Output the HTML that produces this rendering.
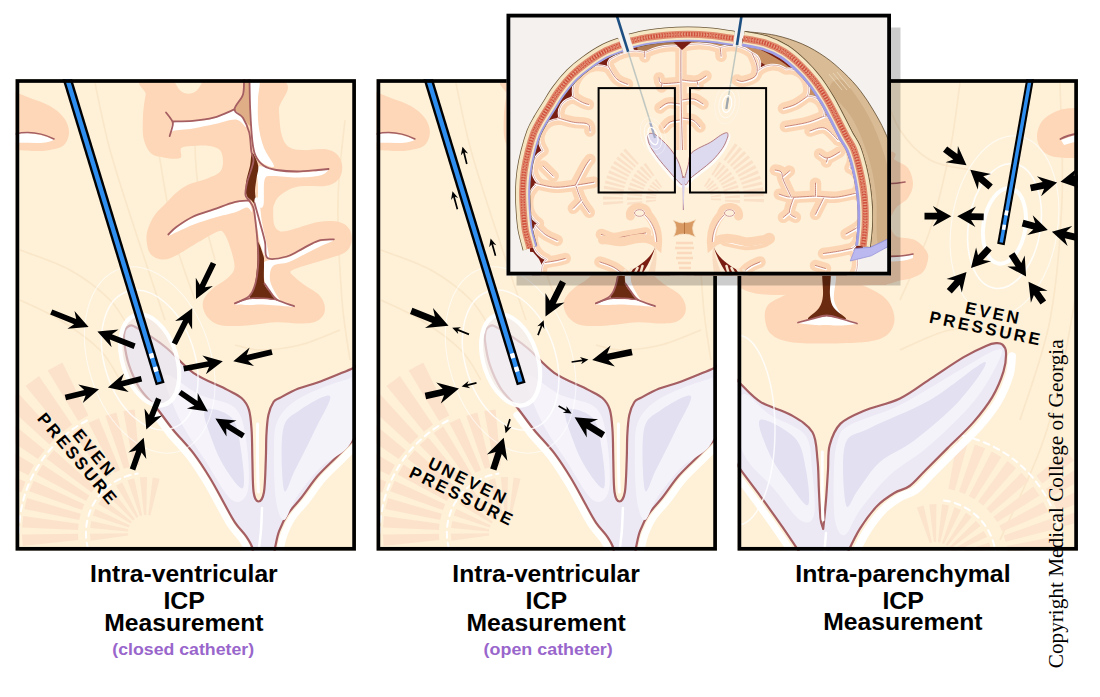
<!DOCTYPE html>
<html><head><meta charset="utf-8"><title>ICP Measurement</title>
<style>
html,body{margin:0;padding:0;background:#fff;}
body{width:1100px;height:697px;overflow:hidden;font-family:"Liberation Sans",sans-serif;}
svg{display:block}
text{font-family:"Liberation Sans",sans-serif;}
.ser{font-family:"Liberation Serif",serif;}
</style></head><body>
<svg width="1100" height="697" viewBox="0 0 1100 697">
<defs>
<clipPath id="cp1"><rect x="15.6" y="79.2" width="340.4" height="471.5"/></clipPath>
<clipPath id="cp2"><rect x="376.5" y="79.2" width="340.4" height="471.5"/></clipPath>
<clipPath id="cp3"><rect x="737.5" y="79.2" width="340.4" height="471.5"/></clipPath>
<clipPath id="cpi"><rect x="506.5" y="13.7" width="384.5" height="261.8"/></clipPath>
<filter id="bl1" x="-20%" y="-20%" width="140%" height="140%"><feGaussianBlur stdDeviation="1.2"/></filter>
<filter id="bl3" x="-30%" y="-30%" width="160%" height="160%"><feGaussianBlur stdDeviation="3"/></filter>
<g id="sceneA">
<rect x="15" y="79" width="342" height="473" fill="#FEF1D8"/>
<path d="M95 83 C97.5 94.2 103.3 125.5 110 150 C116.7 174.5 125.8 201.7 135 230 C144.2 258.3 160 305 165 320" fill="none" stroke="#F9E3C4" stroke-width="1.6" opacity=".8"/>
<path d="M150 83 C151.7 95.8 155.8 133.8 160 160 C164.2 186.2 169.2 216.7 175 240 C180.8 263.3 191.7 290 195 300" fill="none" stroke="#F9E3C4" stroke-width="1.6" opacity=".8"/>
<path d="M20 250 C28.3 253.3 55 261.7 70 270 C85 278.3 100 290 110 300 C120 310 126.7 325 130 330" fill="none" stroke="#F9E3C4" stroke-width="1.6" opacity=".8"/>
<path d="M20 300 C26.7 303.3 46.7 311.7 60 320 C73.3 328.3 90 340 100 350 C110 360 116.7 375 120 380" fill="none" stroke="#F9E3C4" stroke-width="1.6" opacity=".8"/>
<path d="M200 83 C199.2 92.5 195 120.5 195 140 C195 159.5 196.7 180 200 200 C203.3 220 212.5 250 215 260" fill="none" stroke="#F9E3C4" stroke-width="1.6" opacity=".8"/>
<path d="M340 330 C333.3 332.5 313.3 341.7 300 345 C286.7 348.3 270.8 350 260 350 C249.2 350 239.2 345.8 235 345" fill="none" stroke="#F9E3C4" stroke-width="1.6" opacity=".8"/>
<path d="M345 120 C343.8 133.3 338.5 170 338 200 C337.5 230 340 273.3 342 300 C344 326.7 348.7 350 350 360" fill="none" stroke="#F9E3C4" stroke-width="1.6" opacity=".8"/>
<path d="M15 92 C17.5 93 24.2 95.7 30 98 C35.8 100.3 44.3 102.7 50 106 C55.7 109.3 60.8 113.7 64 118 C67.2 122.3 69 127.5 69 132 C69 136.5 67.2 142 64 145 C60.8 148 54.8 149 50 150 C45.2 151 40.8 151 35 151 C29.2 151 18.3 150.2 15 150Z" fill="#FDD7B7"/>
<path d="M15 133 C28 132 42 134 54 140 C44 145 28 142 15 143Z" fill="#fff"/>
<path d="M15 134 C28 131 42 133 54 139" fill="none" stroke="#A55E62" stroke-width="1.6" stroke-linecap="round"/>
<path d="M149.9 79 C127.8 81.6 146.8 88.6 145.7 94.7 C144.5 100.8 143.3 108.3 143 115.6 C142.7 122.9 142.3 132.3 143.6 138.6 C144.9 144.9 147.6 150.2 150.9 153.3 C154.2 156.4 158.6 156.6 163.5 157.4 C168.4 158.2 177.2 159.7 180.2 158.1 C183.1 156.5 179.1 150 181.2 148 C183.3 146 188 146.2 192.7 145.9 C197.4 145.6 204.9 145.2 209.4 145.9 C213.9 146.6 217.6 147.5 219.9 150.1 C222.2 152.7 223 157.9 223 161.6 C223 165.3 222.5 169.3 219.9 172.1 C217.3 174.9 212.6 176.3 207.4 178.4 C202.2 180.5 193.7 182.2 188.5 184.6 C183.3 187 179.5 190.2 176 193 C172.5 195.8 171.1 197.9 167.6 201.5 C164.1 205.1 158.4 210 155.1 214.6 C151.8 219.2 149.2 224.8 147.8 229.3 C146.4 233.8 146.2 237.6 146.7 241.8 C147.2 246 148.1 251.4 150.9 254.4 C153.7 257.4 159 259.6 163.5 259.6 C168 259.6 172.2 257.4 178.1 254.4 C184 251.4 192.4 245.6 199 241.8 C205.6 238 213.6 232.8 217.8 231.4 C222 230 222 230.7 224.1 233.5 C226.2 236.3 228.7 242.5 230.4 248.1 C232.1 253.7 234.8 262 234.5 266.9 C234.2 271.8 231.8 273.9 228.3 277.4 C224.8 280.9 217.6 284.3 213.6 287.8 C209.6 291.3 205.9 294.8 204.2 298.3 C202.5 301.8 202.3 305.2 203.2 308.7 C204.1 312.2 206.3 316.4 209.4 319.2 C212.5 322 215.7 324.4 222 325.4 C228.3 326.4 238 325.9 247.1 325.4 C256.2 324.9 268 322.6 276.4 322.3 C284.8 322 291 323.4 297.3 323.4 C303.6 323.4 309.6 323.7 314 322.3 C318.4 320.9 321.7 318 323.4 315 C325.1 312 325.3 308 324.4 304.5 C323.5 301 321.3 297.2 318.2 294.1 C315.1 291 309.4 288.5 305.6 285.7 C301.8 282.9 297.6 279.8 295.2 277.4 C292.8 275 288.9 273.2 291 271.1 C293.1 269 301.4 266.9 307.7 264.8 C314 262.7 322.3 260.6 328.6 258.5 C334.9 256.4 341.5 255.1 345.3 252.3 C349.1 249.5 350.9 245.6 351.6 241.8 C352.3 238 351.6 232.6 349.5 229.3 C347.4 226 344.3 223.2 339.1 222 C333.9 220.8 325.9 220.8 318.2 222 C310.5 223.2 299.4 227.7 293.1 229.3 C286.8 230.9 283.6 232.1 280.5 231.4 C277.4 230.7 275.5 228.6 274.3 225.1 C273.1 221.6 273.2 214 273.2 210.5 C273.2 207 273.1 206.6 274.3 204 C275.5 201.4 276.7 198 280.5 195.1 C284.3 192.2 289.6 188.3 297.3 186.7 C305 185.1 319.5 187.1 326.5 185.7 C333.5 184.3 336.5 181.7 339.1 178.4 C341.7 175.1 342.6 169.8 342.2 165.8 C341.8 161.8 340 157.1 337 154.3 C334 151.5 330 149.8 324.4 149.1 C318.8 148.4 309.4 150.4 303.5 150.1 C297.6 149.8 292.5 149.6 288.9 147 C285.2 144.4 283.3 140.8 281.6 134.5 C279.9 128.2 279.4 118.7 278.9 109.4 C278.4 100.2 299.9 84.1 278.4 79 C256.9 73.9 172 76.4 149.9 79Z" fill="#FDD7B7"/>
<path d="M173 79 C174.2 80.9 177.6 88 180.2 90.5 C182.8 93 185.7 93.7 188.5 93.7 C191.3 93.7 194.3 93 196.9 90.5 C199.5 88 202.8 80.9 204 79Z" fill="#FEF1D8"/>
<path d="M244 79 C245.1 76.4 248.4 74 249.5 79 C250.6 84 250.1 101.2 250.3 109 C250.6 116.8 252.2 124.5 251 126 C249.8 127.5 245.8 120.5 243 117.7 C240.2 114.9 234.5 113.2 234.5 109.4 C234.5 105.6 241.3 99.8 242.9 94.7 C244.5 89.6 242.9 81.6 244 79Z" fill="#DFAE86"/>
<path d="M250 79 C251.5 74 258.2 75.5 259.5 79 C260.8 82.5 258.2 92.3 258 100 C257.8 107.7 257.5 117 258.5 125 C259.5 133 261.4 141.2 264 148 C266.6 154.8 274 163.3 274 166 C274 168.7 267.1 165.8 264 164 C260.9 162.2 257.4 159 255.4 155 C253.5 151 253.1 147.7 252.3 140 C251.5 132.3 250.9 119.2 250.5 109 C250.1 98.8 248.5 84 250 79Z" fill="#fff"/>
<path d="M173.5 122.5 C177.2 120.1 186 122.2 192.7 121.5 C199.4 120.8 206.9 120.3 213.6 118.5 C220.3 116.7 228.1 110.5 233 110.5 C237.9 110.5 240.8 115.8 243 118.5 C245.2 121.2 247.2 126.8 246 127 C244.8 127.2 241.2 120 236 119.5 C230.8 119 222.2 122.5 215 124 C207.8 125.5 200 127.3 193 128.5 C186 129.7 176.8 129.8 173 131 C169.2 132.2 170.4 137.4 170.5 136 C170.6 134.6 169.8 124.9 173.5 122.5Z" fill="#fff"/>
<path d="M257 168 C258.1 165 261.3 166.5 264.5 167 C267.7 167.5 270.9 170.1 276.4 171 C281.9 171.9 290.3 172.5 297.3 172.5 C304.3 172.5 313.1 171.4 318.2 171 C323.3 170.6 327.7 169.2 328 170 C328.3 170.8 325.2 174.2 320 175.5 C314.8 176.8 305 177.4 297 177.5 C289 177.6 277.4 175.6 272 176 C266.6 176.4 265.9 175.2 264.5 180 C263.1 184.8 264.5 200.8 263.5 205 C262.5 209.2 259.4 208.3 258.5 205 C257.6 201.7 258.2 191.2 258 185 C257.8 178.8 255.9 171 257 168Z" fill="#fff"/>
<path d="M252.3 153 C253.7 153 257.5 161.6 258.2 165.8 C258.9 170 257 174.2 256.5 178.4 C256 182.6 255.1 186.6 255 190.9 C254.9 195.2 256.7 202.5 256 204 C255.3 205.5 252.6 201.5 251 200 C249.4 198.5 247.3 198 246.5 195.1 C245.7 192.2 245.4 187.3 246 182.5 C246.6 177.7 248.9 170.9 250 166 C251.1 161.1 250.9 153 252.3 153Z" fill="#6A2B10"/>
<path d="M248 201.5 C245.1 200.1 240.2 201.8 234.5 203.3 C228.8 204.8 220.6 208.2 213.6 210.6 C206.6 213 199 215 192.7 218 C186.4 221 179.9 225.5 176 228.4 C172.1 231.3 168.7 235 169 235.5 C169.3 236 173.7 233.4 178 231.5 C182.3 229.6 188.8 226.3 195 224 C201.2 221.7 208.2 219.5 215 217.5 C221.8 215.5 230.7 213.7 236 212 C241.3 210.3 244.3 207.5 247 207.5 C249.7 207.5 251.8 213 252 212 C252.2 211 250.9 202.9 248 201.5Z" fill="#fff"/>
<path d="M254.5 200 C254.9 196.3 257.8 196.3 259 200 C260.2 203.7 260.8 214.8 262 222 C263.2 229.2 265.3 237.2 266.5 243 C267.7 248.8 269.2 254.8 269 257 C268.8 259.2 266.5 258.3 265 256 C263.5 253.7 261.4 248.7 260 243 C258.6 237.3 257.4 229.2 256.5 222 C255.6 214.8 254.1 203.7 254.5 200Z" fill="#fff"/>
<path d="M266 261 C269.8 259.3 280.6 259.7 286.8 257.8 C293.1 255.9 298.3 252 303.5 249.4 C308.7 246.8 313.2 243.5 318.2 242 C323.2 240.5 332.9 239.9 333.5 240.5 C334.1 241.1 326.4 243.4 322 245.5 C317.6 247.6 312.5 250.2 307 253 C301.5 255.8 294.7 259.8 289 262 C283.3 264.2 276.2 263 273 266 C269.8 269 269.5 275.3 270 280 C270.5 284.7 274.2 290.5 276 294 C277.8 297.5 281.2 301.2 280.5 301 C279.8 300.8 274.6 296 272 293 C269.4 290 266.3 287.2 265 283 C263.7 278.8 263.8 271.7 264 268 C264.2 264.3 262.2 262.7 266 261Z" fill="#fff"/>
<path d="M257.8 242 C258.8 240.9 262.5 252.5 263.5 256 C264.5 259.5 263.8 258.4 264 263 C264.2 267.6 263.3 278.6 264.5 283.6 C265.7 288.6 268.9 290.1 271 293 C273.1 295.9 278.2 299.9 277 300.8 C275.8 301.7 268.3 298.9 263.8 298.6 C259.3 298.3 251.5 301.2 250 298.8 C248.5 296.4 253.8 290 255 284 C256.2 278 256.8 269.7 257.3 262.7 C257.8 255.7 256.8 243.1 257.8 242Z" fill="#6A2B10"/>
<path d="M235 304 C235.4 303.1 244.4 300.1 249.2 299.3 C254 298.5 259.3 299.1 263.8 299.3 C268.3 299.5 271.4 299.1 276.4 300.3 C281.4 301.5 293.7 305.7 293.8 306.6 C293.9 307.5 282.3 305.9 277 305.6 C271.7 305.3 267 304.7 262 304.6 C257 304.5 251.5 305.1 247 305 C242.5 304.9 234.6 304.9 235 304Z" fill="#fff"/>
<path d="M244 79 C243.8 81.6 244.5 89.6 242.9 94.7 C241.3 99.8 234.5 105.6 234.5 109.4 C234.5 113.2 240.5 113.9 242.9 117.7 C245.3 121.5 247.8 126.8 249.2 132.4 C250.6 138 250.6 146.3 251.3 151.2 C252 156.1 254.1 156.4 253.4 161.6 C252.7 166.8 248.4 176.9 247.1 182.5 C245.8 188.1 245.1 192 245.5 195.1 C245.9 198.2 248.2 198.8 249.5 201 C250.8 203.2 252.4 204.7 253.4 208 C254.4 211.3 254.7 215.3 255.4 220.9 C256.1 226.5 257 234.8 257.5 241.8 C258 248.8 258.7 255.7 258.3 262.7 C257.9 269.7 256.9 278 255.4 283.6 C253.9 289.2 252.6 292.9 249.2 296.2 C245.8 299.5 237.4 302.1 235 303.3" fill="none" stroke="#A55E62" stroke-width="1.8" stroke-linecap="round" stroke-linejoin="round"/>
<path d="M249.5 79 C249.6 84.1 249.7 99.1 250.2 109.4 C250.7 119.7 251.4 133 252.3 140.7 C253.2 148.4 253.5 151.2 255.4 155.4 C257.3 159.6 260.3 163.4 263.8 165.8 C267.3 168.2 270.8 169.1 276.4 170 C282 170.9 290.3 171.5 297.3 171.5 C304.3 171.5 313 170.4 318.2 170 C323.4 169.6 326.9 169.2 328.6 169" fill="none" stroke="#A55E62" stroke-width="1.8" stroke-linecap="round" stroke-linejoin="round"/>
<path d="M234.5 109.4 C231 110.8 220.6 115.8 213.6 117.7 C206.6 119.6 199.5 120.3 192.7 120.9 C185.9 121.5 176.2 121.4 172.9 121.5" fill="none" stroke="#A55E62" stroke-width="1.8" stroke-linecap="round" stroke-linejoin="round"/>
<path d="M166 112.5 C166.8 113.5 169.7 116.9 170.8 118.8 C172 120.7 173.1 121.1 172.9 124 C172.7 126.9 170.2 134.1 169.7 136.1" fill="none" stroke="#A55E62" stroke-width="1.8" stroke-linecap="round" stroke-linejoin="round"/>
<path d="M249.5 200.5 C247 200.8 240.5 200.6 234.5 202.1 C228.5 203.6 220.6 207 213.6 209.4 C206.6 211.8 199 213.7 192.7 216.7 C186.4 219.7 180.1 224.2 176 227.2 C171.9 230.2 169.6 233.3 168.3 234.5" fill="none" stroke="#A55E62" stroke-width="1.8" stroke-linecap="round" stroke-linejoin="round"/>
<path d="M254.5 203 C255.3 206 257.8 214.5 259.5 221 C261.2 227.5 263.7 235.8 265 242 C266.3 248.2 263.9 255.6 267.5 258 C271.1 260.4 280.8 258.1 286.8 256.5 C292.8 254.8 298.3 250.7 303.5 248.1 C308.7 245.5 313.1 242.3 318.2 240.8 C323.3 239.3 331.3 239.6 333.9 239.3" fill="none" stroke="#A55E62" stroke-width="1.8" stroke-linecap="round" stroke-linejoin="round"/>
<path d="M264.5 283.6 C265.6 285.2 268.9 290.3 271 293 C273.1 295.7 273.1 297.6 277 299.8 C280.9 302 291.2 305.1 294.1 306.2" fill="none" stroke="#A55E62" stroke-width="1.8" stroke-linecap="round" stroke-linejoin="round"/>
<path d="M235 303.3 C237.4 302.5 244.4 299.3 249.2 298.5 C254 297.7 259.2 298.1 263.8 298.3 C268.4 298.5 274.8 299.6 277 299.8" fill="none" stroke="#A55E62" stroke-width="1.4" stroke-linecap="round" stroke-linejoin="round"/>
<path d="M21.4 492.5 L-34.7 474.3 L-28.8 458.6 L25.5 481.7Z" fill="#FCE2CB"/>
<path d="M28.4 475.2 L-24.5 449.2 L-16.5 434.5 L34 465.1Z" fill="#FCE2CB"/>
<path d="M37.8 459.1 L-10.9 425.8 L-0.8 412.4 L44.8 449.9Z" fill="#FCE2CB"/>
<path d="M49.4 444.5 L5.9 404.6 L17.8 392.8 L57.6 436.3Z" fill="#FCE2CB"/>
<path d="M63 431.7 L25.6 386 L39 376 L72.2 424.7Z" fill="#FCE2CB"/>
<path d="M78.2 420.9 L47.7 370.4 L62.4 362.4 L88.4 415.4Z" fill="#FCE2CB"/>
<path d="M78.4 540.1 L22.7 546 L22 534.5 L78 533.8Z" fill="#FCE2CB"/>
<path d="M78.1 530 L22.1 527.5 L23.2 516.1 L78.6 523.7Z" fill="#FCE2CB"/>
<path d="M79.3 519.9 L24.3 509.1 L27 498 L80.8 513.8Z" fill="#FCE2CB"/>
<path d="M82 510.1 L29.2 491.3 L33.6 480.7 L84.3 504.3Z" fill="#FCE2CB"/>
<path d="M86.1 500.9 L36.7 474.4 L42.6 464.6 L89.3 495.5Z" fill="#FCE2CB"/>
<path d="M91.5 492.3 L46.6 458.8 L53.9 450 L95.5 487.5Z" fill="#FCE2CB"/>
<path d="M98.1 484.7 L58.7 444.9 L67.2 437.2 L102.8 480.5Z" fill="#FCE2CB"/>
<path d="M105.9 478.1 L72.8 432.9 L82.4 426.6 L111.1 474.6Z" fill="#FCE2CB"/>
<path d="M114.5 472.8 L88.5 423.1 L98.9 418.3 L120.2 470.1Z" fill="#FCE2CB"/>
<path d="M123.8 468.7 L105.4 415.8 L116.4 412.6 L129.8 467Z" fill="#FCE2CB"/>
<path d="M133.6 466.1 L123.3 411.1 L134.7 409.5 L139.8 465.3Z" fill="#FCE2CB"/>
<path d="M128.2 535.5 L90.5 540.8 L90 533.8 L128 533.2Z" fill="#FCE3CC"/>
<path d="M128.1 531.4 L90.2 528 L91.3 521 L128.4 529.2Z" fill="#FCE3CC"/>
<path d="M128.9 527.4 L92.8 515.5 L95.4 509 L129.7 525.3Z" fill="#FCE3CC"/>
<path d="M130.6 523.6 L98.2 503.9 L102.2 498.1 L131.9 521.8Z" fill="#FCE3CC"/>
<path d="M133.1 520.4 L106 493.8 L111.3 489.1 L134.8 518.9Z" fill="#FCE3CC"/>
<path d="M136.3 517.8 L116 485.7 L122.1 482.3 L138.3 516.7Z" fill="#FCE3CC"/>
<path d="M140 516 L127.5 480.2 L134.2 478.2 L142.2 515.4Z" fill="#FCE3CC"/>
<path d="M144 515.1 L139.9 477.3 L147 477 L146.3 515Z" fill="#FCE3CC"/>
<path d="M148.2 515.1 L152.7 477.4 L159.6 478.7 L150.4 515.5Z" fill="#FCE3CC"/>
<path d="M19 533 A127 127 0 0 1 88.3 419.8" fill="none" stroke="#fff" stroke-width="2.0" stroke-dasharray="6 5" stroke-linecap="round"/>
<path d="M88 548.5 A60 60 0 0 1 137.6 473.6" fill="none" stroke="#fff" stroke-width="2.0" stroke-dasharray="6 5" stroke-linecap="round"/>
<path d="M160 412 C162.2 415 167.9 423.2 173.5 430.2 C179.1 437.1 187.7 445.6 193.8 453.7 C199.9 461.8 205.2 470.2 210.3 478.5 C215.4 486.8 220 495.9 224.1 503.3 C228.2 510.7 231.4 517.1 235.1 522.6 C238.8 528.1 243.3 532.3 246.2 536.4 C249 540.5 250.7 543.1 252.2 547.4 C253.7 551.7 254.5 559.6 255 562" fill="none" stroke="#fff" stroke-width="7" stroke-linecap="round" opacity=".95" transform="translate(-4 3)"/>
<path d="M362 432 C360.6 433.3 357.8 435.8 353.6 439.9 C349.5 444 343.1 450.5 337.1 456.5 C331.1 462.5 323.8 468.9 317.8 475.8 C311.8 482.7 306.4 491.4 301.3 497.8 C296.2 504.2 291.2 508.9 287.5 514.4 C283.8 519.9 281.3 525.4 279.2 530.9 C277.1 536.4 276.3 542.2 275.1 547.4 C273.9 552.6 272.5 559.6 272 562" fill="none" stroke="#fff" stroke-width="7" stroke-linecap="round" opacity=".95" transform="translate(5 3)"/>
<path d="M127.2 327.2 C128.3 326.2 129.7 325.1 131.5 325.3 C133.3 325.5 134.9 326.7 138 328.5 C141.1 330.3 145.1 332.7 150 336 C154.9 339.3 160 342.4 167.2 348.5 C174.4 354.6 183.4 365.9 193.3 372.8 C203.2 379.7 218.9 385.4 226.9 389.6 C234.9 393.8 237.8 394.7 241.5 398 C245.2 401.3 247.2 404.3 248.9 409.6 C250.6 414.9 251 421.6 251.6 430 C252.2 438.4 252.1 449.7 252.4 460 C252.7 470.3 252.6 485.1 253.6 492 C254.6 498.9 256.9 501.5 258.6 501.5 C260.3 501.5 262.8 498.9 264 492 C265.2 485.1 265.4 469.5 265.8 460 C266.2 450.5 266 442.5 266.4 435 C266.8 427.5 267.2 420.6 268.4 415.1 C269.6 409.6 271.6 404.9 273.5 402 C275.4 399.1 275.9 400 280 397.8 C284.1 395.6 292.3 391.1 298.4 388.6 C304.5 386.1 309.9 385.3 316.8 382.8 C323.7 380.3 333.6 376.2 339.7 373.7 C345.8 371.2 348.8 370 353.5 367.9 C358.2 365.8 365.2 351.5 368 361 C370.8 370.5 372.4 411.9 370 425 C367.6 438.1 359.1 434.6 353.6 439.9 C348.1 445.1 343.1 450.5 337.1 456.5 C331.1 462.5 323.8 468.9 317.8 475.8 C311.8 482.7 306.4 491.4 301.3 497.8 C296.2 504.2 291.2 508.9 287.5 514.4 C283.8 519.9 281.3 525.4 279.2 530.9 C277.1 536.4 276.3 542.2 275.1 547.4 C273.9 552.6 275.4 559.6 272 562 C268.6 564.4 258.3 564.4 255 562 C251.7 559.6 253.7 551.7 252.2 547.4 C250.7 543.1 249 540.5 246.2 536.4 C243.3 532.3 238.8 528.1 235.1 522.6 C231.4 517.1 228.2 510.7 224.1 503.3 C220 495.9 215.4 486.8 210.3 478.5 C205.2 470.2 199.9 461.8 193.8 453.7 C187.7 445.6 179.6 437.6 173.5 430.2 C167.4 422.8 163 416 157.4 409 C151.8 402 144.5 395.7 139.8 388.4 C135.1 381.1 131.6 372.9 129 365.2 C126.4 357.5 124.9 347.6 124.2 342 C123.5 336.4 124.1 334 124.6 331.5 C125.1 329 126 328.2 127.2 327.2Z" fill="#ECE9F5" stroke="#A55E62" stroke-width="2.2" stroke-linejoin="round"/>
<path d="M278 420 C282.3 411.3 288.8 404.7 300 398 C311.2 391.3 336.3 382.3 345 380 C353.7 377.7 350.8 374 352 384 C353.2 394 357.3 426 352 440 C346.7 454 329.3 458.3 320 468 C310.7 477.7 302 489.3 296 498 C290 506.7 287.3 519.7 284 520 C280.7 520.3 277.7 511.7 276 500 C274.3 488.3 273.7 463.3 274 450 C274.3 436.7 273.7 428.7 278 420Z" fill="#F5F3FA"/>
<path d="M283 430 C285.7 416.7 292.2 415.7 300 410 C307.8 404.3 327.5 392.7 330 396 C332.5 399.3 320.8 417.7 315 430 C309.2 442.3 300.2 460 295 470 C289.8 480 286 496.7 284 490 C282 483.3 280.3 443.3 283 430Z" fill="#E3E0F1"/>
<path d="M165 375 C168.3 370.8 188.3 389.5 200 395 C211.7 400.5 227.3 400.5 235 408 C242.7 415.5 243.8 426.3 246 440 C248.2 453.7 250.3 480 248 490 C245.7 500 239.2 505 232 500 C224.8 495 213.7 473.3 205 460 C196.3 446.7 186.7 434.2 180 420 C173.3 405.8 161.7 379.2 165 375Z" fill="#F6F4FA"/>
<path d="M205 410 C208.3 406.3 226 411.3 232 418 C238 424.7 239.2 438.3 241 450 C242.8 461.7 245.7 485 243 488 C240.3 491 230.2 476 225 468 C219.8 460 215.3 449.7 212 440 C208.7 430.3 201.7 413.7 205 410Z" fill="#E3E0F1"/>
<path d="M262 508 C261.8 511.7 261.5 523.3 261 530 C260.5 536.7 259.3 545 259 548" fill="none" stroke="#fff" stroke-width="2.5" stroke-linecap="round"/>
<path d="M257.6 424 C257.2 450 257.6 475 258.4 492" fill="none" stroke="#fff" stroke-width="3" stroke-linecap="round"/>
</g>
</defs>
<rect width="1100" height="697" fill="#fff"/>
<g clip-path="url(#cp1)"><use href="#sceneA"/>
<ellipse cx="149.7" cy="360" rx="26" ry="46" fill="#EEE8EA" opacity=".6" transform="rotate(-18 149.7 360)"/>
<g transform="translate(149.7 360) rotate(-18)" fill="none" stroke="#fff"><ellipse rx="27" ry="47" stroke-width="4.2" opacity="0.95"/><ellipse rx="45" ry="72" stroke-width="1.5" opacity="0.8"/><ellipse rx="61" ry="96" stroke-width="1.1" opacity="0.6"/></g>
<path d="M65.6 73.4 L160.2 384" stroke="#000" stroke-width="9.2"/><path d="M65.6 73.4 L159.5 381.8" stroke="#2E8EF0" stroke-width="4.4"/><path d="M150.9 353.4 L152.3 358.2" stroke="#fff" stroke-width="4.4"/><path d="M155 366.8 L156.4 371.6" stroke="#fff" stroke-width="4.4"/>
<path d="M50.1 314.6 L74.1 324.2 L67.4 328.7 L88.6 327 L74.5 311.1 L76.2 319 L52.3 309.4Z" fill="#000"/>
<path d="M135.6 343.5 L111.9 334.2 L118.6 329.6 L97.4 331.5 L111.6 347.3 L109.8 339.5 L133.6 348.9Z" fill="#000"/>
<path d="M210.9 261.9 L199.8 284.7 L195.8 277.8 L196 299 L212.9 286.1 L204.9 287.2 L216.1 264.3Z" fill="#000"/>
<path d="M176.8 345 L188.2 322.5 L192.1 329.5 L192.2 308.3 L175.1 321 L183.1 320 L171.8 342.4Z" fill="#000"/>
<path d="M271.3 349.2 L246.7 355.1 L249.6 347.6 L233.3 361.3 L254 366.1 L248.1 360.7 L272.7 354.8Z" fill="#000"/>
<path d="M184.2 371.5 L209.1 366.8 L205.9 374.2 L222.8 361.3 L202.4 355.5 L208 361.2 L183.2 365.9Z" fill="#000"/>
<path d="M66.1 400.3 L85.6 395.5 L82.8 403 L99 389.3 L78.3 384.6 L84.2 390 L64.7 394.7Z" fill="#000"/>
<path d="M140.8 376 L121.2 381 L124 373.5 L107.9 387.4 L128.7 391.9 L122.7 386.6 L142.2 381.6Z" fill="#000"/>
<path d="M244.9 433.5 L229.2 423.7 L236.5 420.4 L215.4 418.4 L226.5 436.5 L226.2 428.5 L241.9 438.3Z" fill="#000"/>
<path d="M178.3 394.5 L194.4 405.7 L186.9 408.6 L207.9 411.6 L197.7 393 L197.6 401 L181.5 389.9Z" fill="#000"/>
<path d="M135.2 470.4 L141.6 452.4 L146.3 458.9 L143.7 437.8 L128.4 452.5 L136.2 450.5 L129.8 468.6Z" fill="#000"/>
<path d="M156.1 397.5 L149 415.1 L144.5 408.4 L146.3 429.6 L162.2 415.5 L154.3 417.2 L161.3 399.7Z" fill="#000"/>
<g transform="translate(36.5 419) rotate(50)" font-weight="bold" font-size="17" letter-spacing="2.7" fill="#000"><text x="35" y="-16.5">EVEN</text><text x="0" y="0">PRESSURE</text></g>
</g>
<g clip-path="url(#cp2)"><use href="#sceneA" x="360.9"/>
<ellipse cx="510.6" cy="360" rx="26" ry="46" fill="#F3EEEF" opacity=".75" transform="rotate(-18 510.6 360)"/>
<g transform="translate(510.6 360) rotate(-18)" fill="none" stroke="#fff"><ellipse rx="27" ry="47" stroke-width="4.2" opacity="0.95"/><ellipse rx="45" ry="72" stroke-width="1.5" opacity="0.8"/><ellipse rx="61" ry="96" stroke-width="1.1" opacity="0.6"/></g>
<path d="M426.5 73.4 L521.2 384" stroke="#000" stroke-width="9.2"/><path d="M426.5 73.4 L520.5 381.8" stroke="#2E8EF0" stroke-width="4.4"/><path d="M511.9 353.4 L513.3 358.2" stroke="#fff" stroke-width="4.4"/><path d="M515.9 366.8 L517.4 371.6" stroke="#fff" stroke-width="4.4"/>
<path d="M410 314 L432.4 322.9 L425 328 L448.5 325.8 L433 308 L434.9 316.8 L412.4 307.8Z" fill="#000"/>
<path d="M560.1 280.3 L549.8 300.7 L545.4 292.9 L545.5 316.5 L564.6 302.6 L555.7 303.7 L565.9 283.3Z" fill="#000"/>
<path d="M631.3 348.8 L607.2 353.7 L610.6 345.4 L592.2 360.1 L614.9 366.4 L608.5 360.1 L632.7 355.2Z" fill="#000"/>
<path d="M426.1 399.2 L444.1 395.2 L440.8 403.6 L459 388.5 L436.2 382.6 L442.7 388.8 L424.7 392.8Z" fill="#000"/>
<path d="M605.1 432.3 L589.9 422.8 L598.1 419.2 L574.6 417.2 L586.8 437.4 L586.4 428.4 L601.7 437.9Z" fill="#000"/>
<path d="M496.4 470.5 L501.8 454 L507.4 461.1 L503.7 437.8 L486.9 454.4 L495.6 452 L490.2 468.5Z" fill="#000"/>
<path d="M469.3 333.6 L458.1 329.1 L461 327.2 L452.2 327.7 L458.2 334.1 L457.5 330.7 L468.7 335.2Z" fill="#000"/>
<path d="M538.8 335.4 L542.4 326.1 L544.3 329 L543.7 320.2 L537.3 326.3 L540.8 325.5 L537.2 334.8Z" fill="#000"/>
<path d="M571.7 362.8 L582.6 361.2 L581.1 364.3 L588.4 359.4 L579.9 356.9 L582.3 359.5 L571.5 361.2Z" fill="#000"/>
<path d="M476.3 382.1 L467.2 384.3 L468.5 381 L461.6 386.6 L470.3 388.3 L467.6 386 L476.7 383.7Z" fill="#000"/>
<path d="M558.2 406.7 L566 411.2 L562.8 412.8 L571.6 413.5 L566.5 406.3 L566.8 409.8 L559 405.3Z" fill="#000"/>
<path d="M509.2 418.8 L506.6 427.3 L504.4 424.5 L505.6 433.3 L511.5 426.8 L508.2 427.8 L510.8 419.4Z" fill="#000"/>
<path d="M467.6 163.8 L464.8 152.3 L468.1 153.6 L462.5 146.7 L460.8 155.4 L463.1 152.7 L466 164.2Z" fill="#000"/>
<path d="M458.2 209.1 L454.9 196.8 L458.2 197.9 L452.5 191.2 L451 199.9 L453.2 197.2 L456.6 209.5Z" fill="#000"/>
<path d="M496.3 255.6 L493.1 244.1 L496.4 245.3 L490.6 238.6 L489.2 247.3 L491.4 244.6 L494.7 256Z" fill="#000"/>
<g transform="translate(408 476.4) rotate(26)" font-weight="bold" font-size="17" letter-spacing="2.7" fill="#000"><text x="12.7" y="-16.5">UNEVEN</text><text x="0" y="0">PRESSURE</text></g>
</g>
<g clip-path="url(#cp3)">
<rect x="737" y="79" width="342" height="473" fill="#FEF1D8"/>
<path d="M960 83 C958.3 94.2 955 125.5 950 150 C945 174.5 938.3 205 930 230 C921.7 255 905 288.3 900 300" fill="none" stroke="#F9E3C4" stroke-width="1.6" opacity=".8"/>
<path d="M1060 83 C1060.3 102.5 1063.7 160.5 1062 200 C1060.3 239.5 1057 283.3 1050 320 C1043 356.7 1025 403.3 1020 420" fill="none" stroke="#F9E3C4" stroke-width="1.6" opacity=".8"/>
<path d="M900 350 C908.3 346.7 933.3 333.3 950 330 C966.7 326.7 985 327.5 1000 330 C1015 332.5 1033.3 342.5 1040 345" fill="none" stroke="#F9E3C4" stroke-width="1.6" opacity=".8"/>
<path d="M1075 300 C1072.5 313.3 1065.8 355 1060 380 C1054.2 405 1050 423.3 1040 450 C1030 476.7 1006.7 525 1000 540" fill="none" stroke="#F9E3C4" stroke-width="1.6" opacity=".8"/>
<path d="M880 83 C883.3 90.8 891.7 117.2 900 130 C908.3 142.8 918.3 153.3 930 160 C941.7 166.7 963.3 168.3 970 170" fill="none" stroke="#F9E3C4" stroke-width="1.6" opacity=".8"/>
<path d="M1080 108 C1076.7 108.3 1066.2 108 1060 110 C1053.8 112 1046.8 115.7 1043 120 C1039.2 124.3 1037.2 131 1037 136 C1036.8 141 1039 146.5 1042 150 C1045 153.5 1048.7 155.7 1055 157 C1061.3 158.3 1075.8 157.8 1080 158Z" fill="#FDD7B7"/>
<path d="M1061 140 L1078 134 L1078 141 L1064 145Z" fill="#fff"/>
<path d="M1060.5 139 C1066 136 1072 134.5 1078 133.5" fill="none" stroke="#A55E62" stroke-width="1.8" stroke-linecap="round"/>
<path d="M768 305 C771.3 301 778.8 298.3 785 295 C791.2 291.7 799.2 287.8 805 285 C810.8 282.2 815.2 279.3 820 278 C824.8 276.7 826.7 275.7 834 277 C841.3 278.3 855.4 282.4 864 286 C872.6 289.6 880.7 293.7 885.7 298.7 C890.8 303.7 893.6 310.4 894.3 316 C895 321.6 893.7 327.8 890 332 C886.3 336.2 882 339.1 872 341 C862 342.9 843.7 343.3 830 343.5 C816.3 343.7 799.8 343.6 790 342 C780.2 340.4 775.2 337.8 771 334 C766.8 330.2 765.5 323.8 765 319 C764.5 314.2 764.7 309 768 305Z" fill="#FDD7B7"/>
<path d="M737 150 C760.8 127.5 853.7 148.3 880 150 C906.3 151.7 890.3 157 895 160 C899.7 163 905 164 908 168 C911 172 913 179 913 184 C913 189 910.8 194 908 198 C905.2 202 899 204 896 208 C893 212 890 217.3 890 222 C890 226.7 891.8 233 896 236 C900.2 239 909.8 237.3 915 240 C920.2 242.7 924.9 248.3 927 252 C929.1 255.7 928.2 258.7 927.5 262 C926.8 265.3 925.6 269.3 923 272 C920.4 274.7 915.8 276.6 912 278 C908.2 279.4 904 279.5 900 280.5 C896 281.5 893 283.2 888 284 C883 284.8 895.2 284.8 870 285 C844.8 285.2 759.2 307.5 737 285 C714.8 262.5 713.2 172.5 737 150Z" fill="#FDD7B7"/>
<path d="M880 183.5 C890 184 898 183.5 905 182" fill="none" stroke="#A55E62" stroke-width="1.6" stroke-linecap="round"/>
<path d="M880 256 C895 257 905 256 913 254 L913 258 C903 262 892 262 880 261Z" fill="#fff"/>
<path d="M880 256 C895 257 905 256 913 254" fill="none" stroke="#A55E62" stroke-width="1.6" stroke-linecap="round"/>
<path d="M798 322.5 C798 321.3 810.3 319.4 815 318 C819.7 316.6 821.8 314 826 314 C830.2 314 834.8 316.4 840 318 C845.2 319.6 857 322.2 857 323.5 C857 324.8 845.2 325.2 840 325.5 C834.8 325.8 830.2 325.1 826 325 C821.8 324.9 819.7 325.4 815 325 C810.3 324.6 798 323.7 798 322.5Z" fill="#fff"/>
<path d="M829 276 C829.7 271 835.2 272 836 276 C836.8 280 833 293.3 834 300 C835 306.7 842.3 315 842 316 C841.7 317 834.2 312.7 832 306 C829.8 299.3 828.3 281 829 276Z" fill="#fff"/>
<path d="M822.5 270 C823.8 265.8 829.2 265.8 830.5 270 C831.8 274.2 829.4 288.7 830 295 C830.6 301.3 831.3 304 834 308 C836.7 312 847.2 317.7 846 319 C844.8 320.3 832.9 316 826.6 316 C820.3 316 809.3 320.3 808 319 C806.7 317.7 816.5 312 819 308 C821.5 304 822.4 301.3 823 295 C823.6 288.7 821.2 274.2 822.5 270Z" fill="#6A2B10"/>
<path d="M798 322.5 C800.3 321.9 807.2 320.2 812 319 C816.8 317.8 821.6 315.5 826.6 315.5 C831.6 315.5 836.9 317.7 842 319 C847.1 320.3 854.5 322.8 857 323.5" fill="none" stroke="#A55E62" stroke-width="1.8" stroke-linecap="round"/>
<path d="M948.5 489.1 L957.2 439.9 L967.9 442.2 L954.8 490.5Z" fill="#FCE4CE"/><path d="M959 491.8 L974.9 444.4 L985.2 448.3 L965 494.1Z" fill="#FCE4CE"/><path d="M968.9 496 L991.8 451.5 L1001.3 456.9 L974.5 499.2Z" fill="#FCE4CE"/><path d="M978.1 501.6 L1007.4 461.1 L1016 467.9 L983.2 505.6Z" fill="#FCE4CE"/><path d="M986.4 508.6 L1021.4 472.8 L1028.9 480.9 L990.8 513.3Z" fill="#FCE4CE"/><path d="M993.5 516.7 L1033.4 486.6 L1039.6 495.6 L997.2 522Z" fill="#FCE4CE"/><path d="M999.3 525.8 L1043.3 502 L1048.1 511.9 L1002.2 531.6Z" fill="#FCE4CE"/><path d="M1003.7 535.6 L1050.8 518.7 L1054 529.2 L1005.7 541.8Z" fill="#FCE4CE"/><path d="M1006.6 546 L1055.7 536.3 L1057.3 547.2 L1007.6 552.4Z" fill="#FCE4CE"/><path d="M1007.9 556.7 L1057.9 554.5 L1057.9 565.4 L1007.9 563.2Z" fill="#FCE4CE"/>
<path d="M1036.4 475.8 L1066.2 450.7 L1073.9 460.6 L1042.2 483.4Z" fill="#FCE4CE"/><path d="M1045.9 488.7 L1078.6 467.4 L1085 478.1 L1050.8 496.9Z" fill="#FCE4CE"/><path d="M1053.7 502.6 L1088.8 485.5 L1093.8 496.9 L1057.6 511.4Z" fill="#FCE4CE"/><path d="M1059.9 517.4 L1096.7 504.7 L1100.4 516.6 L1062.7 526.5Z" fill="#FCE4CE"/>
<path d="M929.8 543.1 L916.8 507.4 L923.6 505.4 L932 542.4Z" fill="#FCE3CC"/><path d="M933.8 542.1 L929.3 504.4 L936.3 504 L936.1 542Z" fill="#FCE3CC"/><path d="M938 542.1 L942.1 504.3 L949 505.5 L940.2 542.5Z" fill="#FCE3CC"/><path d="M942 543 L954.5 507.2 L961 509.9 L944 543.9Z" fill="#FCE3CC"/><path d="M945.7 544.8 L966 512.7 L971.7 516.9 L947.5 546.1Z" fill="#FCE3CC"/><path d="M948.9 547.4 L976 520.8 L980.6 526.1 L950.3 549.1Z" fill="#FCE3CC"/><path d="M951.4 550.6 L983.8 530.9 L987.1 537.1 L952.4 552.6Z" fill="#FCE3CC"/><path d="M953.1 554.4 L989.2 542.5 L991 549.3 L953.7 556.6Z" fill="#FCE3CC"/><path d="M953.9 558.4 L991.8 555 L992 562.1 L954 560.7Z" fill="#FCE3CC"/>
<path d="M941 433 A127 127 0 0 1 1063 560" fill="none" stroke="#fff" stroke-width="2" stroke-dasharray="6 5" stroke-linecap="round"/>
<path d="M944 500.5 A60 60 0 0 1 996 560" fill="none" stroke="#fff" stroke-width="2" stroke-dasharray="6 5" stroke-linecap="round"/>
<path d="M1006 352.3 C1005.6 355.5 1005.8 364 1003.5 371.4 C1001.2 378.8 997.4 388.4 992.4 396.9 C987.4 405.4 980.7 413.9 973.3 422.4 C965.9 430.9 955.8 439.9 947.8 447.9 C939.8 455.9 931.9 463.8 925.5 470.2 C919.1 476.6 914.8 482.2 909.6 486 C904.4 489.8 899.7 489.7 894.3 493 C888.9 496.3 882.9 500 877.1 506 C871.4 512 865 520.6 859.8 528.9 C854.6 537.2 848.3 551.5 846 556" fill="none" stroke="#fff" stroke-width="8" stroke-linecap="round" transform="translate(6 4)"/>
<path d="M730 455 C731.9 457.6 736.4 463.9 741.5 470.9 C746.6 477.9 754 487.5 760.8 496.8 C767.6 506.1 775.5 517 782.4 526.9 C789.3 536.8 798.7 551.1 802 556" fill="none" stroke="#fff" stroke-width="7" stroke-linecap="round" transform="translate(-5 4)"/>
<path d="M730 372 C731.9 374.1 736.4 379.8 741.5 384.8 C746.6 389.8 752.5 397.1 760.8 402.1 C769 407.1 782.4 410 791 415 C799.6 420 808.1 424.7 812.5 432.2 C816.9 439.7 816.4 450.4 817.5 460 C818.6 469.6 818.4 480.3 818.9 490 C819.4 499.7 819.8 511.8 820.5 518.3 C821.2 524.8 822.8 527.2 823.2 529 C823.7 524.2 825.2 509.8 826 500 C826.8 490.2 827.4 479.1 828 470 C828.6 460.9 827.6 452.8 829.7 445.1 C831.8 437.4 834.8 429.3 840.5 423.6 C846.2 417.9 854.2 414.9 864.1 410.7 C874 406.5 888.7 404 900 398.5 C911.3 393 921.3 384.7 931.9 377.8 C942.5 370.9 954.7 362.4 963.7 357.1 C972.7 351.8 980.6 348.2 986 345.9 C991.4 343.6 993.2 343.4 996 343.2 C998.8 343 1000.8 343.1 1002.5 344.6 C1004.2 346.1 1005.8 347.8 1006 352.3 C1006.2 356.8 1005.8 364 1003.5 371.4 C1001.2 378.8 997.4 388.4 992.4 396.9 C987.4 405.4 980.7 413.9 973.3 422.4 C965.9 430.9 955.8 439.9 947.8 447.9 C939.8 455.9 931.9 463.8 925.5 470.2 C919.1 476.6 914.8 482.2 909.6 486 C904.4 489.8 899.7 489.7 894.3 493 C888.9 496.3 882.9 500 877.1 506 C871.4 512 865 520.6 859.8 528.9 C854.6 537.2 848.3 551.5 846 556 L802 556 C798.7 551.1 789.3 536.8 782.4 526.9 C775.5 517 767.6 506.1 760.8 496.8 C754 487.5 746.6 477.9 741.5 470.9 C736.4 463.9 731.9 457.6 730 455Z" fill="#ECE9F5" stroke="#A55E62" stroke-width="2.2" stroke-linejoin="round"/>
<path d="M838 440 C840.7 432.5 839.7 430.8 850 425 C860.3 419.2 881.7 414.2 900 405 C918.3 395.8 944 379.2 960 370 C976 360.8 989.3 352 996 350 C1002.7 348 1003.5 349.7 1000 358 C996.5 366.3 986.7 385.5 975 400 C963.3 414.5 944.2 432.5 930 445 C915.8 457.5 901.7 464.2 890 475 C878.3 485.8 867.5 500 860 510 C852.5 520 849.2 533.3 845 535 C840.8 536.7 836.8 530.8 835 520 C833.2 509.2 833.5 483.3 834 470 C834.5 456.7 835.3 447.5 838 440Z" fill="#F5F3FA"/>
<path d="M845 445 C849 432.2 855.8 435.5 870 428 C884.2 420.5 910.8 411 930 400 C949.2 389 980 362 985 362 C990 362 971.7 387 960 400 C948.3 413 928.3 429.7 915 440 C901.7 450.3 889.5 453.7 880 462 C870.5 470.3 863.7 482.8 858 490 C852.3 497.2 848.2 512.5 846 505 C843.8 497.5 841 457.8 845 445Z" fill="#E3E0F1"/>
<path d="M742 395 C746.7 389.2 759.5 408.3 770 415 C780.5 421.7 798 425.8 805 435 C812 444.2 810.5 456.7 812 470 C813.5 483.3 816 506.7 814 515 C812 523.3 806.5 524.2 800 520 C793.5 515.8 784.7 501.7 775 490 C765.3 478.3 747.5 465.8 742 450 C736.5 434.2 737.3 400.8 742 395Z" fill="#F5F3FA"/>
<path d="M760 420 C764.2 417.2 787.3 429.7 795 438 C802.7 446.3 803.8 458.8 806 470 C808.2 481.2 810.7 502.5 808 505 C805.3 507.5 796.3 493.3 790 485 C783.7 476.7 775 465.8 770 455 C765 444.2 755.8 422.8 760 420Z" fill="#E3E0F1"/>
<path d="M826 533 C825.8 535 825.3 541.8 825 545 C824.7 548.2 824.2 550.8 824 552" fill="none" stroke="#fff" stroke-width="2.5" stroke-linecap="round"/>
<path d="M822.3 452 C822 480 822.3 505 823 520" fill="none" stroke="#fff" stroke-width="3" stroke-linecap="round"/>
<ellipse cx="737" cy="430" rx="38" ry="95" fill="none" stroke="#fff" stroke-width="1.5" opacity=".8"/>
<g transform="translate(1004.5 226) rotate(9)" fill="none" stroke="#fff"><ellipse rx="21" ry="38" stroke-width="4" opacity="0.95"/><ellipse rx="36" ry="63" stroke-width="1.6" opacity="0.85"/><ellipse rx="53" ry="91" stroke-width="1.2" opacity="0.6"/></g>
<path d="M1031.2 72.8 L1000.9 244.5" stroke="#000" stroke-width="7.6"/><path d="M1031.2 72.8 L1001.2 242.5" stroke="#2E8EF0" stroke-width="3.5"/><path d="M1006.9 210.5 L1006 215.4" stroke="#fff" stroke-width="3.5"/><path d="M1004.4 224.8 L1003.5 229.7" stroke="#fff" stroke-width="3.5"/>
<path d="M943 151.8 L953.3 159.6 L945.6 162.3 L966.5 165.3 L957.9 146 L957.4 154.1 L947.2 146.4Z" fill="#000"/>
<path d="M992.8 184.4 L983.2 176.2 L991 173.9 L970.3 169.7 L977.7 189.5 L978.8 181.4 L988.4 189.6Z" fill="#000"/>
<path d="M924.5 219.6 L937.3 219.6 L932.8 226.4 L951.3 216.2 L932.8 205.9 L937.3 212.8 L924.5 212.8Z" fill="#000"/>
<path d="M983.8 213.5 L971.3 213.2 L976 206.4 L957.2 216.2 L975.4 226.9 L971.1 220 L983.6 220.3Z" fill="#000"/>
<path d="M951.8 293.6 L959.7 284.7 L961.8 292.6 L966.5 272 L946.5 279 L954.6 280.2 L946.8 289Z" fill="#000"/>
<path d="M986.7 246 L978 255.3 L976.1 247.4 L971 267.9 L991.1 261.3 L983 260 L991.7 250.6Z" fill="#000"/>
<path d="M1046.1 300.4 L1039.4 291.1 L1047.6 290.8 L1028.5 281.7 L1030.9 302.7 L1033.9 295.1 L1040.5 304.4Z" fill="#000"/>
<path d="M1008.7 255.9 L1015.6 266.6 L1007.4 266.5 L1026.1 276.5 L1024.7 255.4 L1021.3 262.9 L1014.5 252.3Z" fill="#000"/>
<path d="M1077.1 234.1 L1066.3 231.6 L1072.2 225.9 L1051.9 231.7 L1067.6 245.9 L1064.8 238.2 L1075.5 240.7Z" fill="#000"/>
<path d="M1021.7 226.4 L1033.4 229.6 L1027.2 235 L1047.8 230 L1032.7 215.2 L1035.2 223 L1023.5 219.8Z" fill="#000"/>
<path d="M1081.4 174.6 L1073.7 176 L1076.9 168.4 L1060.5 181.8 L1080.5 188.6 L1074.9 182.6 L1082.6 181.2Z" fill="#000"/>
<path d="M1031.3 191.3 L1044.1 188.7 L1041.1 196.3 L1057.1 182.5 L1036.9 176.2 L1042.7 182 L1029.9 184.7Z" fill="#000"/>
<g transform="translate(928.5 322.5) rotate(11.7)" font-weight="bold" font-size="17" letter-spacing="2.7" fill="#000"><text x="33" y="-16.5">EVEN</text><text x="0" y="0">PRESSURE</text></g>
</g>
<rect x="17.4" y="81" width="336.7" height="467.8" fill="none" stroke="#000" stroke-width="3.7"/>
<rect x="378.4" y="81" width="336.7" height="467.8" fill="none" stroke="#000" stroke-width="3.7"/>
<rect x="739.4" y="81" width="336.7" height="467.8" fill="none" stroke="#000" stroke-width="3.7"/>
<rect x="516.5" y="27.5" width="384" height="258" fill="#000" opacity=".2"/>
<g clip-path="url(#cpi)">
<rect x="506.5" y="13.7" width="384.5" height="261.8" fill="#F5F1EF"/>
<path d="M744.8 31.5 C749.9 32.1 765.6 33.2 775.2 35.3 C784.8 37.4 794.2 40.5 802.5 44.1 C810.8 47.7 818 52.1 825 56.9 C832 61.7 838.3 67.4 844.2 73 C850.1 78.6 855.5 84.5 860.3 90.7 C865.1 96.9 869.2 103.3 873.2 110 C877.2 116.7 881.3 123.8 884.4 130.8 C887.5 137.8 889.9 142.1 892 152 C894.1 161.9 896.2 176 897 190 C897.8 204 897 228.3 897 236 L897 240 L871 256 L870.3 247 L872.3 226.5 L872.3 206.4 L870.3 186.3 L866.3 166.2 L860.2 146.1 L852.2 132 L842.6 113.2 L833 95.5 L820.1 76.2 L805.7 60.2 L788 45.7 L767.1 36.1 L744.8 31.5Z" fill="#D9BC95" stroke="#5E4A2E" stroke-width=".8"/>
<path d="M842 80 C847.7 83 857.7 97.7 864 108 C870.3 118.3 875.7 130 880 142 C884.3 154 888 165 890 180 C892 195 894 221.3 892 232 C890 242.7 880.7 250.2 878 244 C875.3 237.8 877.7 209.7 876 195 C874.3 180.3 872 168.8 868 156 C864 143.2 858.3 129 852 118 C845.7 107 831.7 96.3 830 90 C828.3 83.7 836.3 77 842 80Z" fill="#CBAA80" opacity=".75"/>
<path d="M829 74 L842 90 M833 73 L847 90 M837 72 L850 88" stroke="#EBD9BD" stroke-width=".8" fill="none"/>
<path d="M850.2 261 L855.2 248.4 L870.3 247.4 L889 238.6 L889 246 L871.3 255.8Z" fill="#BAB8EF" stroke="#8F8DD6" stroke-width=".7"/>
<path d="M529.8 248.2 C529.6 247.7 529.7 248 528.9 244.9 C528.1 241.8 526 235.2 525 229.4 C524 223.5 523.5 216.4 523.1 209.9 C522.7 203.5 522.3 196.9 522.5 190.5 C522.7 184 523.1 177.6 524 171.2 C524.9 164.7 526.3 158.2 527.9 151.8 C529.5 145.4 531.7 137.8 533.7 132.5 C535.8 127.2 537.7 124.3 540.2 120 C542.7 115.6 545.5 111.3 548.6 106.4 C551.7 101.5 554.9 95.8 558.7 90.6 C562.6 85.3 567.1 79.6 571.8 74.9 C576.4 70.3 581.1 66.6 586.4 62.7 C591.8 58.9 597.9 54.6 603.7 51.6 C609.4 48.6 616.5 46.3 620.9 44.6 C625.2 42.8 625.3 42.4 629.6 41.2 C633.8 40 640.2 38.4 646.2 37.4 C652.2 36.4 658.6 35.5 665.6 35 C672.5 34.4 680.7 34 688 34 C695.3 34 701.7 34.2 709.3 35 C717 35.7 728.4 37.8 734.1 38.3 C739.7 38.9 738.2 37.6 743.4 38.4 C748.5 39.1 758.1 40.5 764.9 42.7 C771.7 45 778.3 47.9 784.3 51.6 C790.3 55.4 795.8 60.5 800.9 65.3 C805.9 70.1 810.2 74.8 814.6 80.5 C818.9 86.1 823.4 93.1 827 99.1 C830.7 105.1 833.2 110.4 836.4 116.5 C839.6 122.5 843.1 129.9 846 135.3 C848.9 140.7 851.5 143.3 853.7 148.8 C856 154.2 857.9 161.5 859.5 167.9 C861.1 174.3 862.4 180.9 863.4 187.3 C864.3 193.8 865 200.3 865.3 206.7 C865.6 213.2 865.6 219.6 865.3 226.2 C865 232.8 863.7 243 863.3 246.3 L849 290 L533 290Z" fill="#7A1D12"/>
<path d="M690 42 C695 40.3 710.8 39.7 720 40 C729.2 40.3 737.5 42 745 44 C752.5 46 758.3 48.7 765 52 C771.7 55.3 779.2 59.8 785 64 C790.8 68.2 795 72.2 800 77 C805 81.8 810.7 87.5 815 93 C819.3 98.5 822.5 103.8 826 110 C829.5 116.2 832.5 123.3 836 130 C839.5 136.7 844 143.3 847 150 C850 156.7 852.2 162.5 854 170 C855.8 177.5 857.2 185.8 858 195 C858.8 204.2 859.3 216.7 859 225 C858.7 233.3 857.3 239.2 856 245 C854.7 250.8 854 257.5 851 260 C848 262.5 840.2 270 838 260 C835.8 250 840.7 220 838 200 C835.3 180 829.7 158.3 822 140 C814.3 121.7 802.3 103 792 90 C781.7 77 772 68.3 760 62 C748 55.7 731.7 54 720 52 C708.3 50 695 51.7 690 50 C685 48.3 685 43.7 690 42Z" fill="#C78F62"/>
<path d="M640 44 C644.2 42.2 659 41.3 665 41 C671 40.7 673.8 40.5 676 42 C678.2 43.5 680.7 48.3 678 50 C675.3 51.7 666.3 51.7 660 52 C653.7 52.3 643.3 53.3 640 52 C636.7 50.7 635.8 45.8 640 44Z" fill="#B07A52"/>
<path d="M505 250.5 L533 252 L539 259 L545 272 L548 290 L505 290Z" fill="#F5F1EF"/>
<path d="M850.5 262 L889 247 L889 290 L845 290 L848 272Z" fill="#F5F1EF"/>
<clipPath id="cbL"><path d="M681 46.5 A57.7 57.7 0 0 0 645.4 52.5 A40 40 0 0 0 612.6 57.9 A6.5 6.5 0 0 0 609.3 67.8 A25.6 25.6 0 0 0 573.9 98 A15.2 15.2 0 0 0 560.2 119.2 A19.7 19.7 0 0 0 543.1 150.8 A20.3 20.3 0 0 0 538.4 183.2 A24.1 24.1 0 0 0 538.4 223.4 A22.1 22.1 0 0 0 546.6 259.3 A17.3 17.3 0 0 0 551.9 287.7 L681 285Z"/></clipPath><clipPath id="cbR"><path d="M681 46.5 A62.9 62.9 0 0 1 720.3 47.5 A32.2 32.2 0 0 1 752 53 A11.8 11.8 0 0 1 757 72 A21.9 21.9 0 0 1 786 69 A20.1 20.1 0 0 1 807.4 96.3 A15.5 15.5 0 0 1 823.5 116.4 A16.6 16.6 0 0 1 838 140 A18.9 18.9 0 0 1 850 168 A16.1 16.1 0 0 1 856 193.2 A21.1 21.1 0 0 1 856 228.4 A13.5 13.5 0 0 1 852 248.4 A22.8 22.8 0 0 1 842 285 L681 285Z"/></clipPath>
<g clip-path="url(#cbL)"><path d="M681 46.5 A57.7 57.7 0 0 0 645.4 52.5 A40 40 0 0 0 612.6 57.9 A6.5 6.5 0 0 0 609.3 67.8 A25.6 25.6 0 0 0 573.9 98 A15.2 15.2 0 0 0 560.2 119.2 A19.7 19.7 0 0 0 543.1 150.8 A20.3 20.3 0 0 0 538.4 183.2 A24.1 24.1 0 0 0 538.4 223.4 A22.1 22.1 0 0 0 546.6 259.3 A17.3 17.3 0 0 0 551.9 287.7 L681 285Z" fill="#FEF0D9" stroke="#FCD6B4" stroke-width="11.5" stroke-linejoin="round"/><path d="M644.6 50.5 C644.6 51.6 644.8 55.9 644.8 57" fill="none" stroke="#FCD6B4" stroke-width="11.5" stroke-linecap="round" stroke-linejoin="round"/><path d="M607.6 65.2 C609.1 67.5 613.3 75.6 616.6 78.8 C619.9 82 625.7 83.3 627.5 84.2" fill="none" stroke="#FCD6B4" stroke-width="11.5" stroke-linecap="round" stroke-linejoin="round"/><path d="M571.4 96 C573.2 97 579.4 100.9 582.3 102.3 C585.1 103.7 587.5 104.1 588.5 104.5" fill="none" stroke="#FCD6B4" stroke-width="11.5" stroke-linecap="round" stroke-linejoin="round"/><path d="M557.4 117.7 C560 118.5 568.2 121.2 573.3 122.2 C578.3 123.2 584.9 122.5 587.7 124 C590.5 125.5 589.6 129.8 590 131" fill="none" stroke="#FCD6B4" stroke-width="11.5" stroke-linecap="round" stroke-linejoin="round"/><path d="M543.2 166.1 C544.9 167.8 551.5 174.4 553.2 176.1" fill="none" stroke="#FCD6B4" stroke-width="11.5" stroke-linecap="round" stroke-linejoin="round"/><path d="M535.1 183.2 C538.5 183.9 548.5 186.9 555.2 187.2 C561.9 187.5 568.8 186 575.3 185.2 C581.8 184.4 590.9 182.7 594 182.2" fill="none" stroke="#FCD6B4" stroke-width="11.5" stroke-linecap="round" stroke-linejoin="round"/><path d="M575.3 185.2 C577 182 582.8 170.4 585.3 166.1 C587.8 161.8 589.2 160.6 590 159.5" fill="none" stroke="#FCD6B4" stroke-width="11.5" stroke-linecap="round" stroke-linejoin="round"/><path d="M576 186.2 C576.9 188.5 579.1 195.8 581.3 200.2 C583.5 204.5 588 210.3 589.3 212.3" fill="none" stroke="#FCD6B4" stroke-width="11.5" stroke-linecap="round" stroke-linejoin="round"/><path d="M581.3 200.2 C580 201.5 574.6 207 573.3 208.3" fill="none" stroke="#FCD6B4" stroke-width="11.5" stroke-linecap="round" stroke-linejoin="round"/><path d="M535.1 224.3 C536.8 226 541.5 231.7 545.2 234.4 C548.9 237.1 555.2 239.4 557.2 240.4" fill="none" stroke="#FCD6B4" stroke-width="11.5" stroke-linecap="round" stroke-linejoin="round"/><path d="M545.2 262.5 C547.2 262.2 553.9 261.2 557.2 260.5 C560.5 259.8 563.9 258.8 565.2 258.5" fill="none" stroke="#FCD6B4" stroke-width="11.5" stroke-linecap="round" stroke-linejoin="round"/><path d="M601.4 234.4 C603.4 235.1 609.4 238.1 613.4 238.4 C617.4 238.7 620.1 237.3 625.5 236.4 C630.9 235.5 642.2 233.6 645.6 233" fill="none" stroke="#FCD6B4" stroke-width="11.5" stroke-linecap="round" stroke-linejoin="round"/><path d="M600 262 C602.5 263 610 265 615 268 C620 271 627.5 278 630 280" fill="none" stroke="#FCD6B4" stroke-width="11.5" stroke-linecap="round" stroke-linejoin="round"/><path d="M680 82.4 C677 82.6 665.5 84 662 83.3 C658.5 82.5 659.6 78.8 659.1 77.9" fill="none" stroke="#FCD6B4" stroke-width="11.5" stroke-linecap="round" stroke-linejoin="round"/><path d="M662 83.3 C661.9 83.9 661.6 86.4 661.5 87" fill="none" stroke="#FCD6B4" stroke-width="11.5" stroke-linecap="round" stroke-linejoin="round"/><path d="M680 104 C678 103.8 671.3 102.3 668 103 C664.7 103.7 661.3 107.2 660 108" fill="none" stroke="#FCD6B4" stroke-width="11.5" stroke-linecap="round" stroke-linejoin="round"/><path d="M680 120 C678.3 120.3 672.7 120.7 670 122 C667.3 123.3 665 127 664 128" fill="none" stroke="#FCD6B4" stroke-width="11.5" stroke-linecap="round" stroke-linejoin="round"/></g><path d="M681 46.5 A57.7 57.7 0 0 0 645.4 52.5 A40 40 0 0 0 612.6 57.9 A6.5 6.5 0 0 0 609.3 67.8 A25.6 25.6 0 0 0 573.9 98 A15.2 15.2 0 0 0 560.2 119.2 A19.7 19.7 0 0 0 543.1 150.8 A20.3 20.3 0 0 0 538.4 183.2 A24.1 24.1 0 0 0 538.4 223.4 A22.1 22.1 0 0 0 546.6 259.3 A17.3 17.3 0 0 0 551.9 287.7 L681 285Z" fill="none" stroke="#fff" stroke-width="2.4" stroke-linejoin="round"/><path d="M681 46.5 A57.7 57.7 0 0 0 645.4 52.5 A40 40 0 0 0 612.6 57.9 A6.5 6.5 0 0 0 609.3 67.8 A25.6 25.6 0 0 0 573.9 98 A15.2 15.2 0 0 0 560.2 119.2 A19.7 19.7 0 0 0 543.1 150.8 A20.3 20.3 0 0 0 538.4 183.2 A24.1 24.1 0 0 0 538.4 223.4 A22.1 22.1 0 0 0 546.6 259.3 A17.3 17.3 0 0 0 551.9 287.7 L681 285Z" fill="none" stroke="#B9685C" stroke-width=".6" stroke-linejoin="round" opacity=".8"/><path d="M644.6 50.5 C644.6 51.6 644.8 55.9 644.8 57" fill="none" stroke="#fff" stroke-width="2" stroke-linecap="round" transform="translate(.3 .9)"/><path d="M644.6 50.5 C644.6 51.6 644.8 55.9 644.8 57" fill="none" stroke="#B9685C" stroke-width=".8" stroke-linecap="round"/><path d="M607.6 65.2 C609.1 67.5 613.3 75.6 616.6 78.8 C619.9 82 625.7 83.3 627.5 84.2" fill="none" stroke="#fff" stroke-width="2" stroke-linecap="round" transform="translate(.3 .9)"/><path d="M607.6 65.2 C609.1 67.5 613.3 75.6 616.6 78.8 C619.9 82 625.7 83.3 627.5 84.2" fill="none" stroke="#B9685C" stroke-width=".8" stroke-linecap="round"/><path d="M571.4 96 C573.2 97 579.4 100.9 582.3 102.3 C585.1 103.7 587.5 104.1 588.5 104.5" fill="none" stroke="#fff" stroke-width="2" stroke-linecap="round" transform="translate(.3 .9)"/><path d="M571.4 96 C573.2 97 579.4 100.9 582.3 102.3 C585.1 103.7 587.5 104.1 588.5 104.5" fill="none" stroke="#B9685C" stroke-width=".8" stroke-linecap="round"/><path d="M557.4 117.7 C560 118.5 568.2 121.2 573.3 122.2 C578.3 123.2 584.9 122.5 587.7 124 C590.5 125.5 589.6 129.8 590 131" fill="none" stroke="#fff" stroke-width="2" stroke-linecap="round" transform="translate(.3 .9)"/><path d="M557.4 117.7 C560 118.5 568.2 121.2 573.3 122.2 C578.3 123.2 584.9 122.5 587.7 124 C590.5 125.5 589.6 129.8 590 131" fill="none" stroke="#B9685C" stroke-width=".8" stroke-linecap="round"/><path d="M543.2 166.1 C544.9 167.8 551.5 174.4 553.2 176.1" fill="none" stroke="#fff" stroke-width="2" stroke-linecap="round" transform="translate(.3 .9)"/><path d="M543.2 166.1 C544.9 167.8 551.5 174.4 553.2 176.1" fill="none" stroke="#B9685C" stroke-width=".8" stroke-linecap="round"/><path d="M535.1 183.2 C538.5 183.9 548.5 186.9 555.2 187.2 C561.9 187.5 568.8 186 575.3 185.2 C581.8 184.4 590.9 182.7 594 182.2" fill="none" stroke="#fff" stroke-width="2" stroke-linecap="round" transform="translate(.3 .9)"/><path d="M535.1 183.2 C538.5 183.9 548.5 186.9 555.2 187.2 C561.9 187.5 568.8 186 575.3 185.2 C581.8 184.4 590.9 182.7 594 182.2" fill="none" stroke="#B9685C" stroke-width=".8" stroke-linecap="round"/><path d="M575.3 185.2 C577 182 582.8 170.4 585.3 166.1 C587.8 161.8 589.2 160.6 590 159.5" fill="none" stroke="#fff" stroke-width="2" stroke-linecap="round" transform="translate(.3 .9)"/><path d="M575.3 185.2 C577 182 582.8 170.4 585.3 166.1 C587.8 161.8 589.2 160.6 590 159.5" fill="none" stroke="#B9685C" stroke-width=".8" stroke-linecap="round"/><path d="M576 186.2 C576.9 188.5 579.1 195.8 581.3 200.2 C583.5 204.5 588 210.3 589.3 212.3" fill="none" stroke="#fff" stroke-width="2" stroke-linecap="round" transform="translate(.3 .9)"/><path d="M576 186.2 C576.9 188.5 579.1 195.8 581.3 200.2 C583.5 204.5 588 210.3 589.3 212.3" fill="none" stroke="#B9685C" stroke-width=".8" stroke-linecap="round"/><path d="M581.3 200.2 C580 201.5 574.6 207 573.3 208.3" fill="none" stroke="#fff" stroke-width="2" stroke-linecap="round" transform="translate(.3 .9)"/><path d="M581.3 200.2 C580 201.5 574.6 207 573.3 208.3" fill="none" stroke="#B9685C" stroke-width=".8" stroke-linecap="round"/><path d="M535.1 224.3 C536.8 226 541.5 231.7 545.2 234.4 C548.9 237.1 555.2 239.4 557.2 240.4" fill="none" stroke="#fff" stroke-width="2" stroke-linecap="round" transform="translate(.3 .9)"/><path d="M535.1 224.3 C536.8 226 541.5 231.7 545.2 234.4 C548.9 237.1 555.2 239.4 557.2 240.4" fill="none" stroke="#B9685C" stroke-width=".8" stroke-linecap="round"/><path d="M545.2 262.5 C547.2 262.2 553.9 261.2 557.2 260.5 C560.5 259.8 563.9 258.8 565.2 258.5" fill="none" stroke="#fff" stroke-width="2" stroke-linecap="round" transform="translate(.3 .9)"/><path d="M545.2 262.5 C547.2 262.2 553.9 261.2 557.2 260.5 C560.5 259.8 563.9 258.8 565.2 258.5" fill="none" stroke="#B9685C" stroke-width=".8" stroke-linecap="round"/><path d="M601.4 234.4 C603.4 235.1 609.4 238.1 613.4 238.4 C617.4 238.7 620.1 237.3 625.5 236.4 C630.9 235.5 642.2 233.6 645.6 233" fill="none" stroke="#fff" stroke-width="2" stroke-linecap="round" transform="translate(.3 .9)"/><path d="M601.4 234.4 C603.4 235.1 609.4 238.1 613.4 238.4 C617.4 238.7 620.1 237.3 625.5 236.4 C630.9 235.5 642.2 233.6 645.6 233" fill="none" stroke="#B9685C" stroke-width=".8" stroke-linecap="round"/><path d="M600 262 C602.5 263 610 265 615 268 C620 271 627.5 278 630 280" fill="none" stroke="#fff" stroke-width="2" stroke-linecap="round" transform="translate(.3 .9)"/><path d="M600 262 C602.5 263 610 265 615 268 C620 271 627.5 278 630 280" fill="none" stroke="#B9685C" stroke-width=".8" stroke-linecap="round"/><path d="M680 82.4 C677 82.6 665.5 84 662 83.3 C658.5 82.5 659.6 78.8 659.1 77.9" fill="none" stroke="#fff" stroke-width="2" stroke-linecap="round" transform="translate(.3 .9)"/><path d="M680 82.4 C677 82.6 665.5 84 662 83.3 C658.5 82.5 659.6 78.8 659.1 77.9" fill="none" stroke="#B9685C" stroke-width=".8" stroke-linecap="round"/><path d="M662 83.3 C661.9 83.9 661.6 86.4 661.5 87" fill="none" stroke="#fff" stroke-width="2" stroke-linecap="round" transform="translate(.3 .9)"/><path d="M662 83.3 C661.9 83.9 661.6 86.4 661.5 87" fill="none" stroke="#B9685C" stroke-width=".8" stroke-linecap="round"/><path d="M680 104 C678 103.8 671.3 102.3 668 103 C664.7 103.7 661.3 107.2 660 108" fill="none" stroke="#fff" stroke-width="2" stroke-linecap="round" transform="translate(.3 .9)"/><path d="M680 104 C678 103.8 671.3 102.3 668 103 C664.7 103.7 661.3 107.2 660 108" fill="none" stroke="#B9685C" stroke-width=".8" stroke-linecap="round"/><path d="M680 120 C678.3 120.3 672.7 120.7 670 122 C667.3 123.3 665 127 664 128" fill="none" stroke="#fff" stroke-width="2" stroke-linecap="round" transform="translate(.3 .9)"/><path d="M680 120 C678.3 120.3 672.7 120.7 670 122 C667.3 123.3 665 127 664 128" fill="none" stroke="#B9685C" stroke-width=".8" stroke-linecap="round"/>
<g clip-path="url(#cbR)"><path d="M681 46.5 A62.9 62.9 0 0 1 720.3 47.5 A32.2 32.2 0 0 1 752 53 A11.8 11.8 0 0 1 757 72 A21.9 21.9 0 0 1 786 69 A20.1 20.1 0 0 1 807.4 96.3 A15.5 15.5 0 0 1 823.5 116.4 A16.6 16.6 0 0 1 838 140 A18.9 18.9 0 0 1 850 168 A16.1 16.1 0 0 1 856 193.2 A21.1 21.1 0 0 1 856 228.4 A13.5 13.5 0 0 1 852 248.4 A22.8 22.8 0 0 1 842 285 L681 285Z" fill="#FEF0D9" stroke="#FCD6B4" stroke-width="11.5" stroke-linejoin="round"/><path d="M720.3 48.5 C720.4 49.8 721 54.9 721.1 56.2" fill="none" stroke="#FCD6B4" stroke-width="11.5" stroke-linecap="round" stroke-linejoin="round"/><path d="M752 53 C752.8 55.2 756.5 62.1 757 66 C757.5 69.9 757.5 73.8 755.2 76.3 C752.9 78.8 746.2 80.7 743.2 81.3 C740.2 81.9 738 80.2 737 80" fill="none" stroke="#FCD6B4" stroke-width="11.5" stroke-linecap="round" stroke-linejoin="round"/><path d="M807.4 96.3 C805.4 97.7 799.4 102.4 795.4 104.4 C791.4 106.4 785.4 107.7 783.4 108.4" fill="none" stroke="#FCD6B4" stroke-width="11.5" stroke-linecap="round" stroke-linejoin="round"/><path d="M823.5 116.4 C820.8 117.4 813.8 120.7 807.4 122.4 C801 124.1 789 125.8 785.3 126.5" fill="none" stroke="#FCD6B4" stroke-width="11.5" stroke-linecap="round" stroke-linejoin="round"/><path d="M838 140 C835.8 138 829.2 129.5 824.5 128 C819.8 126.5 812.4 130.5 810 131" fill="none" stroke="#FCD6B4" stroke-width="11.5" stroke-linecap="round" stroke-linejoin="round"/><path d="M819.5 154.1 C820.8 154.8 824.1 158.4 827.5 158.1 C830.9 157.8 837.6 153 839.6 152" fill="none" stroke="#FCD6B4" stroke-width="11.5" stroke-linecap="round" stroke-linejoin="round"/><path d="M827.5 158.1 C827.3 158.8 826.7 161.3 826.5 162" fill="none" stroke="#FCD6B4" stroke-width="11.5" stroke-linecap="round" stroke-linejoin="round"/><path d="M856 193.2 C852.6 193.9 842.4 196.7 835.6 197.2 C828.9 197.7 822.9 196.2 815.5 196.2 C808.1 196.2 797.4 197.5 791.4 197.2 C785.4 196.9 781.3 194.7 779.3 194.2" fill="none" stroke="#FCD6B4" stroke-width="11.5" stroke-linecap="round" stroke-linejoin="round"/><path d="M815.5 196.2 C815.5 194 815.5 185.4 815.5 183.2" fill="none" stroke="#FCD6B4" stroke-width="11.5" stroke-linecap="round" stroke-linejoin="round"/><path d="M791.4 197.2 C790.1 194.4 785.1 184.4 783.4 180.2 C781.7 176 782.6 173.8 781.3 172.1 C779.9 170.4 776.3 170.4 775.3 170.1" fill="none" stroke="#FCD6B4" stroke-width="11.5" stroke-linecap="round" stroke-linejoin="round"/><path d="M783.4 176.1 C784.4 175.3 788.4 171.9 789.4 171.1" fill="none" stroke="#FCD6B4" stroke-width="11.5" stroke-linecap="round" stroke-linejoin="round"/><path d="M793.4 198.2 C792.7 200.5 789.1 209.1 789.4 212.3 C789.7 215.5 794.4 216.5 795.4 217.3" fill="none" stroke="#FCD6B4" stroke-width="11.5" stroke-linecap="round" stroke-linejoin="round"/><path d="M789.4 212.3 C788.4 213.1 784.4 216.5 783.4 217.3" fill="none" stroke="#FCD6B4" stroke-width="11.5" stroke-linecap="round" stroke-linejoin="round"/><path d="M823.5 198.2 C822.2 200.9 816.8 211.6 815.5 214.3" fill="none" stroke="#FCD6B4" stroke-width="11.5" stroke-linecap="round" stroke-linejoin="round"/><path d="M856 228.4 C854.3 229.3 847.7 233.1 846 234" fill="none" stroke="#FCD6B4" stroke-width="11.5" stroke-linecap="round" stroke-linejoin="round"/><path d="M852 248.4 C849.6 248.9 842.4 250.6 837.6 251.4 C832.9 252.2 825.9 253.2 823.5 253.5" fill="none" stroke="#FCD6B4" stroke-width="11.5" stroke-linecap="round" stroke-linejoin="round"/><path d="M815.5 265.5 C817.2 266 823.8 268 825.5 268.5" fill="none" stroke="#FCD6B4" stroke-width="11.5" stroke-linecap="round" stroke-linejoin="round"/><path d="M725.1 240.4 C728.5 241.1 739.2 244.1 745.2 244.4 C751.2 244.7 757.3 243.4 761.3 242.4 C765.3 241.4 768 239.1 769.3 238.4" fill="none" stroke="#FCD6B4" stroke-width="11.5" stroke-linecap="round" stroke-linejoin="round"/><path d="M760 262 C758 263 752.2 264.7 748 268 C743.8 271.3 737.2 279.7 735 282" fill="none" stroke="#FCD6B4" stroke-width="11.5" stroke-linecap="round" stroke-linejoin="round"/><path d="M682 80 C684.5 80.2 693 81.7 697 81 C701 80.3 704.5 76.8 706 76" fill="none" stroke="#FCD6B4" stroke-width="11.5" stroke-linecap="round" stroke-linejoin="round"/><path d="M697 81 C697.2 81.7 697.8 84.3 698 85" fill="none" stroke="#FCD6B4" stroke-width="11.5" stroke-linecap="round" stroke-linejoin="round"/><path d="M682 100 C684 99.8 690.5 98.3 694 99 C697.5 99.7 701.5 103.2 703 104" fill="none" stroke="#FCD6B4" stroke-width="11.5" stroke-linecap="round" stroke-linejoin="round"/><path d="M682 118 C683.8 118.3 690 118.5 693 120 C696 121.5 698.8 125.8 700 127" fill="none" stroke="#FCD6B4" stroke-width="11.5" stroke-linecap="round" stroke-linejoin="round"/></g><path d="M681 46.5 A62.9 62.9 0 0 1 720.3 47.5 A32.2 32.2 0 0 1 752 53 A11.8 11.8 0 0 1 757 72 A21.9 21.9 0 0 1 786 69 A20.1 20.1 0 0 1 807.4 96.3 A15.5 15.5 0 0 1 823.5 116.4 A16.6 16.6 0 0 1 838 140 A18.9 18.9 0 0 1 850 168 A16.1 16.1 0 0 1 856 193.2 A21.1 21.1 0 0 1 856 228.4 A13.5 13.5 0 0 1 852 248.4 A22.8 22.8 0 0 1 842 285 L681 285Z" fill="none" stroke="#fff" stroke-width="2.4" stroke-linejoin="round"/><path d="M681 46.5 A62.9 62.9 0 0 1 720.3 47.5 A32.2 32.2 0 0 1 752 53 A11.8 11.8 0 0 1 757 72 A21.9 21.9 0 0 1 786 69 A20.1 20.1 0 0 1 807.4 96.3 A15.5 15.5 0 0 1 823.5 116.4 A16.6 16.6 0 0 1 838 140 A18.9 18.9 0 0 1 850 168 A16.1 16.1 0 0 1 856 193.2 A21.1 21.1 0 0 1 856 228.4 A13.5 13.5 0 0 1 852 248.4 A22.8 22.8 0 0 1 842 285 L681 285Z" fill="none" stroke="#B9685C" stroke-width=".6" stroke-linejoin="round" opacity=".8"/><path d="M720.3 48.5 C720.4 49.8 721 54.9 721.1 56.2" fill="none" stroke="#fff" stroke-width="2" stroke-linecap="round" transform="translate(.3 .9)"/><path d="M720.3 48.5 C720.4 49.8 721 54.9 721.1 56.2" fill="none" stroke="#B9685C" stroke-width=".8" stroke-linecap="round"/><path d="M752 53 C752.8 55.2 756.5 62.1 757 66 C757.5 69.9 757.5 73.8 755.2 76.3 C752.9 78.8 746.2 80.7 743.2 81.3 C740.2 81.9 738 80.2 737 80" fill="none" stroke="#fff" stroke-width="2" stroke-linecap="round" transform="translate(.3 .9)"/><path d="M752 53 C752.8 55.2 756.5 62.1 757 66 C757.5 69.9 757.5 73.8 755.2 76.3 C752.9 78.8 746.2 80.7 743.2 81.3 C740.2 81.9 738 80.2 737 80" fill="none" stroke="#B9685C" stroke-width=".8" stroke-linecap="round"/><path d="M807.4 96.3 C805.4 97.7 799.4 102.4 795.4 104.4 C791.4 106.4 785.4 107.7 783.4 108.4" fill="none" stroke="#fff" stroke-width="2" stroke-linecap="round" transform="translate(.3 .9)"/><path d="M807.4 96.3 C805.4 97.7 799.4 102.4 795.4 104.4 C791.4 106.4 785.4 107.7 783.4 108.4" fill="none" stroke="#B9685C" stroke-width=".8" stroke-linecap="round"/><path d="M823.5 116.4 C820.8 117.4 813.8 120.7 807.4 122.4 C801 124.1 789 125.8 785.3 126.5" fill="none" stroke="#fff" stroke-width="2" stroke-linecap="round" transform="translate(.3 .9)"/><path d="M823.5 116.4 C820.8 117.4 813.8 120.7 807.4 122.4 C801 124.1 789 125.8 785.3 126.5" fill="none" stroke="#B9685C" stroke-width=".8" stroke-linecap="round"/><path d="M838 140 C835.8 138 829.2 129.5 824.5 128 C819.8 126.5 812.4 130.5 810 131" fill="none" stroke="#fff" stroke-width="2" stroke-linecap="round" transform="translate(.3 .9)"/><path d="M838 140 C835.8 138 829.2 129.5 824.5 128 C819.8 126.5 812.4 130.5 810 131" fill="none" stroke="#B9685C" stroke-width=".8" stroke-linecap="round"/><path d="M819.5 154.1 C820.8 154.8 824.1 158.4 827.5 158.1 C830.9 157.8 837.6 153 839.6 152" fill="none" stroke="#fff" stroke-width="2" stroke-linecap="round" transform="translate(.3 .9)"/><path d="M819.5 154.1 C820.8 154.8 824.1 158.4 827.5 158.1 C830.9 157.8 837.6 153 839.6 152" fill="none" stroke="#B9685C" stroke-width=".8" stroke-linecap="round"/><path d="M827.5 158.1 C827.3 158.8 826.7 161.3 826.5 162" fill="none" stroke="#fff" stroke-width="2" stroke-linecap="round" transform="translate(.3 .9)"/><path d="M827.5 158.1 C827.3 158.8 826.7 161.3 826.5 162" fill="none" stroke="#B9685C" stroke-width=".8" stroke-linecap="round"/><path d="M856 193.2 C852.6 193.9 842.4 196.7 835.6 197.2 C828.9 197.7 822.9 196.2 815.5 196.2 C808.1 196.2 797.4 197.5 791.4 197.2 C785.4 196.9 781.3 194.7 779.3 194.2" fill="none" stroke="#fff" stroke-width="2" stroke-linecap="round" transform="translate(.3 .9)"/><path d="M856 193.2 C852.6 193.9 842.4 196.7 835.6 197.2 C828.9 197.7 822.9 196.2 815.5 196.2 C808.1 196.2 797.4 197.5 791.4 197.2 C785.4 196.9 781.3 194.7 779.3 194.2" fill="none" stroke="#B9685C" stroke-width=".8" stroke-linecap="round"/><path d="M815.5 196.2 C815.5 194 815.5 185.4 815.5 183.2" fill="none" stroke="#fff" stroke-width="2" stroke-linecap="round" transform="translate(.3 .9)"/><path d="M815.5 196.2 C815.5 194 815.5 185.4 815.5 183.2" fill="none" stroke="#B9685C" stroke-width=".8" stroke-linecap="round"/><path d="M791.4 197.2 C790.1 194.4 785.1 184.4 783.4 180.2 C781.7 176 782.6 173.8 781.3 172.1 C779.9 170.4 776.3 170.4 775.3 170.1" fill="none" stroke="#fff" stroke-width="2" stroke-linecap="round" transform="translate(.3 .9)"/><path d="M791.4 197.2 C790.1 194.4 785.1 184.4 783.4 180.2 C781.7 176 782.6 173.8 781.3 172.1 C779.9 170.4 776.3 170.4 775.3 170.1" fill="none" stroke="#B9685C" stroke-width=".8" stroke-linecap="round"/><path d="M783.4 176.1 C784.4 175.3 788.4 171.9 789.4 171.1" fill="none" stroke="#fff" stroke-width="2" stroke-linecap="round" transform="translate(.3 .9)"/><path d="M783.4 176.1 C784.4 175.3 788.4 171.9 789.4 171.1" fill="none" stroke="#B9685C" stroke-width=".8" stroke-linecap="round"/><path d="M793.4 198.2 C792.7 200.5 789.1 209.1 789.4 212.3 C789.7 215.5 794.4 216.5 795.4 217.3" fill="none" stroke="#fff" stroke-width="2" stroke-linecap="round" transform="translate(.3 .9)"/><path d="M793.4 198.2 C792.7 200.5 789.1 209.1 789.4 212.3 C789.7 215.5 794.4 216.5 795.4 217.3" fill="none" stroke="#B9685C" stroke-width=".8" stroke-linecap="round"/><path d="M789.4 212.3 C788.4 213.1 784.4 216.5 783.4 217.3" fill="none" stroke="#fff" stroke-width="2" stroke-linecap="round" transform="translate(.3 .9)"/><path d="M789.4 212.3 C788.4 213.1 784.4 216.5 783.4 217.3" fill="none" stroke="#B9685C" stroke-width=".8" stroke-linecap="round"/><path d="M823.5 198.2 C822.2 200.9 816.8 211.6 815.5 214.3" fill="none" stroke="#fff" stroke-width="2" stroke-linecap="round" transform="translate(.3 .9)"/><path d="M823.5 198.2 C822.2 200.9 816.8 211.6 815.5 214.3" fill="none" stroke="#B9685C" stroke-width=".8" stroke-linecap="round"/><path d="M856 228.4 C854.3 229.3 847.7 233.1 846 234" fill="none" stroke="#fff" stroke-width="2" stroke-linecap="round" transform="translate(.3 .9)"/><path d="M856 228.4 C854.3 229.3 847.7 233.1 846 234" fill="none" stroke="#B9685C" stroke-width=".8" stroke-linecap="round"/><path d="M852 248.4 C849.6 248.9 842.4 250.6 837.6 251.4 C832.9 252.2 825.9 253.2 823.5 253.5" fill="none" stroke="#fff" stroke-width="2" stroke-linecap="round" transform="translate(.3 .9)"/><path d="M852 248.4 C849.6 248.9 842.4 250.6 837.6 251.4 C832.9 252.2 825.9 253.2 823.5 253.5" fill="none" stroke="#B9685C" stroke-width=".8" stroke-linecap="round"/><path d="M815.5 265.5 C817.2 266 823.8 268 825.5 268.5" fill="none" stroke="#fff" stroke-width="2" stroke-linecap="round" transform="translate(.3 .9)"/><path d="M815.5 265.5 C817.2 266 823.8 268 825.5 268.5" fill="none" stroke="#B9685C" stroke-width=".8" stroke-linecap="round"/><path d="M725.1 240.4 C728.5 241.1 739.2 244.1 745.2 244.4 C751.2 244.7 757.3 243.4 761.3 242.4 C765.3 241.4 768 239.1 769.3 238.4" fill="none" stroke="#fff" stroke-width="2" stroke-linecap="round" transform="translate(.3 .9)"/><path d="M725.1 240.4 C728.5 241.1 739.2 244.1 745.2 244.4 C751.2 244.7 757.3 243.4 761.3 242.4 C765.3 241.4 768 239.1 769.3 238.4" fill="none" stroke="#B9685C" stroke-width=".8" stroke-linecap="round"/><path d="M760 262 C758 263 752.2 264.7 748 268 C743.8 271.3 737.2 279.7 735 282" fill="none" stroke="#fff" stroke-width="2" stroke-linecap="round" transform="translate(.3 .9)"/><path d="M760 262 C758 263 752.2 264.7 748 268 C743.8 271.3 737.2 279.7 735 282" fill="none" stroke="#B9685C" stroke-width=".8" stroke-linecap="round"/><path d="M682 80 C684.5 80.2 693 81.7 697 81 C701 80.3 704.5 76.8 706 76" fill="none" stroke="#fff" stroke-width="2" stroke-linecap="round" transform="translate(.3 .9)"/><path d="M682 80 C684.5 80.2 693 81.7 697 81 C701 80.3 704.5 76.8 706 76" fill="none" stroke="#B9685C" stroke-width=".8" stroke-linecap="round"/><path d="M697 81 C697.2 81.7 697.8 84.3 698 85" fill="none" stroke="#fff" stroke-width="2" stroke-linecap="round" transform="translate(.3 .9)"/><path d="M697 81 C697.2 81.7 697.8 84.3 698 85" fill="none" stroke="#B9685C" stroke-width=".8" stroke-linecap="round"/><path d="M682 100 C684 99.8 690.5 98.3 694 99 C697.5 99.7 701.5 103.2 703 104" fill="none" stroke="#fff" stroke-width="2" stroke-linecap="round" transform="translate(.3 .9)"/><path d="M682 100 C684 99.8 690.5 98.3 694 99 C697.5 99.7 701.5 103.2 703 104" fill="none" stroke="#B9685C" stroke-width=".8" stroke-linecap="round"/><path d="M682 118 C683.8 118.3 690 118.5 693 120 C696 121.5 698.8 125.8 700 127" fill="none" stroke="#fff" stroke-width="2" stroke-linecap="round" transform="translate(.3 .9)"/><path d="M682 118 C683.8 118.3 690 118.5 693 120 C696 121.5 698.8 125.8 700 127" fill="none" stroke="#B9685C" stroke-width=".8" stroke-linecap="round"/>
<rect x="670" y="150" width="24" height="135" fill="#FEF0D9"/>
<path d="M681 46 C680.5 80 681.5 120 682.5 150" fill="none" stroke="#fff" stroke-width="2.2"/>
<path d="M681 46 C680.5 80 681.5 120 682.5 150" fill="none" stroke="#B9685C" stroke-width=".8"/>
<path d="M673 41.5 L692 41.5 L682 50Z" fill="#7A1D12"/>
<path d="M656.1 201.1 L646.2 202.5 L646 200.2 L656 199.7Z" fill="#FBE0C8"/><path d="M656 198.6 L646 198.4 L646.2 196.1 L656.1 197.3Z" fill="#FBE0C8"/><path d="M656.3 196.2 L646.4 194.3 L647 192.1 L656.6 194.9Z" fill="#FBE0C8"/><path d="M656.9 193.8 L647.6 190.3 L648.4 188.2 L657.5 192.5Z" fill="#FBE0C8"/><path d="M658 191.6 L649.3 186.6 L650.5 184.7 L658.7 190.4Z" fill="#FBE0C8"/><path d="M659.4 189.5 L651.6 183.2 L653.1 181.5 L660.3 188.5Z" fill="#FBE0C8"/><path d="M661.1 187.8 L654.5 180.3 L656.2 178.8 L662.1 186.9Z" fill="#FBE0C8"/>
<path d="M642.3 203 L627.4 205.1 L627.1 202.4 L642.1 201.2Z" fill="#FBE0C8"/><path d="M642 199.7 L627 200.1 L627 197.3 L642 197.9Z" fill="#FBE0C8"/><path d="M642.1 196.4 L627.2 195 L627.5 192.2 L642.3 194.5Z" fill="#FBE0C8"/><path d="M642.6 193.1 L627.9 190 L628.6 187.3 L643 191.3Z" fill="#FBE0C8"/><path d="M643.5 189.8 L629.2 185.1 L630.2 182.5 L644.1 188.1Z" fill="#FBE0C8"/><path d="M644.7 186.7 L631.1 180.4 L632.4 177.9 L645.5 185.1Z" fill="#FBE0C8"/><path d="M646.3 183.8 L633.5 175.9 L635.1 173.6 L647.3 182.3Z" fill="#FBE0C8"/><path d="M648.2 181.1 L636.4 171.8 L638.2 169.7 L649.4 179.7Z" fill="#FBE0C8"/><path d="M650.4 178.6 L639.8 168 L641.8 166.1 L651.8 177.3Z" fill="#FBE0C8"/><path d="M652.9 176.3 L643.5 164.6 L645.8 162.9 L654.4 175.2Z" fill="#FBE0C8"/>
<path d="M623.2 203.2 L603.3 204.9 L603.1 201.9 L623 201.1Z" fill="#FBE0C8"/><path d="M623 199.3 L603 199.5 L603 196.5 L623 197.2Z" fill="#FBE0C8"/><path d="M623.1 195.5 L603.2 194.1 L603.5 191.1 L623.3 193.4Z" fill="#FBE0C8"/><path d="M623.6 191.7 L603.8 188.7 L604.3 185.7 L623.9 189.6Z" fill="#FBE0C8"/><path d="M624.3 187.9 L604.8 183.3 L605.6 180.4 L624.8 185.9Z" fill="#FBE0C8"/><path d="M625.3 184.2 L606.3 178.1 L607.3 175.3 L626 182.2Z" fill="#FBE0C8"/><path d="M626.7 180.6 L608.2 173 L609.4 170.2 L627.5 178.7Z" fill="#FBE0C8"/><path d="M628.3 177.1 L610.5 168 L611.9 165.4 L629.3 175.3Z" fill="#FBE0C8"/><path d="M630.1 173.8 L613.1 163.3 L614.8 160.8 L631.3 172Z" fill="#FBE0C8"/><path d="M632.3 170.6 L616.2 158.8 L618 156.4 L633.6 168.9Z" fill="#FBE0C8"/><path d="M634.7 167.6 L619.6 154.5 L621.6 152.3 L636.1 166Z" fill="#FBE0C8"/><path d="M637.3 164.8 L623.3 150.6 L625.4 148.5 L638.8 163.4Z" fill="#FBE0C8"/>
<path d="M703.9 186.3 L709.2 177.8 L711.1 179.1 L705.1 187Z" fill="#FBE0C8"/><path d="M705.9 187.8 L712.5 180.3 L714.2 181.8 L706.9 188.7Z" fill="#FBE0C8"/><path d="M707.6 189.5 L715.4 183.2 L716.7 185 L708.4 190.6Z" fill="#FBE0C8"/><path d="M709 191.6 L717.7 186.6 L718.7 188.6 L709.6 192.8Z" fill="#FBE0C8"/><path d="M710.1 193.8 L719.4 190.3 L720.1 192.5 L710.5 195.1Z" fill="#FBE0C8"/><path d="M710.7 196.2 L720.6 194.3 L720.9 196.5 L710.9 197.5Z" fill="#FBE0C8"/><path d="M711 198.6 L721 198.4 L720.9 200.6 L711 200Z" fill="#FBE0C8"/>
<path d="M711.4 174.4 L719.3 161.7 L721.6 163.2 L712.9 175.4Z" fill="#FBE0C8"/><path d="M714.1 176.3 L723.5 164.6 L725.6 166.4 L715.5 177.5Z" fill="#FBE0C8"/><path d="M716.6 178.6 L727.2 168 L729.1 170 L717.8 179.9Z" fill="#FBE0C8"/><path d="M718.8 181.1 L730.6 171.8 L732.2 174 L719.9 182.5Z" fill="#FBE0C8"/><path d="M720.7 183.8 L733.5 175.9 L734.9 178.4 L721.6 185.4Z" fill="#FBE0C8"/><path d="M722.3 186.7 L735.9 180.4 L737 183 L723 188.4Z" fill="#FBE0C8"/><path d="M723.5 189.8 L737.8 185.1 L738.5 187.8 L724 191.6Z" fill="#FBE0C8"/><path d="M724.4 193.1 L739.1 190 L739.6 192.7 L724.7 194.9Z" fill="#FBE0C8"/><path d="M724.9 196.4 L739.8 195 L740 197.8 L725 198.2Z" fill="#FBE0C8"/><path d="M725 199.7 L740 200.1 L739.8 202.9 L724.9 201.5Z" fill="#FBE0C8"/>
<path d="M723.5 159.7 L735 143.3 L737.6 145.2 L725.4 161Z" fill="#FBE0C8"/><path d="M726.9 162.2 L739.7 146.9 L742.2 149.1 L728.6 163.8Z" fill="#FBE0C8"/><path d="M729.9 165.1 L744.1 150.9 L746.3 153.3 L731.5 166.7Z" fill="#FBE0C8"/><path d="M732.8 168.1 L748.1 155.3 L750.1 157.8 L734.2 169.9Z" fill="#FBE0C8"/><path d="M735.3 171.5 L751.7 160 L753.5 162.7 L736.6 173.4Z" fill="#FBE0C8"/><path d="M737.6 175 L754.9 165 L756.5 167.9 L738.7 177Z" fill="#FBE0C8"/><path d="M739.5 178.7 L757.6 170.3 L758.9 173.3 L740.4 180.8Z" fill="#FBE0C8"/><path d="M741.1 182.6 L759.9 175.7 L760.9 178.8 L741.8 184.8Z" fill="#FBE0C8"/><path d="M742.4 186.6 L761.7 181.4 L762.5 184.6 L742.9 188.8Z" fill="#FBE0C8"/><path d="M743.3 190.7 L763 187.2 L763.5 190.4 L743.6 192.9Z" fill="#FBE0C8"/><path d="M743.8 194.8 L763.7 193.1 L763.9 196.3 L744 197.1Z" fill="#FBE0C8"/><path d="M744 199 L764 199 L763.9 202.3 L743.9 201.3Z" fill="#FBE0C8"/>
<path d="M649.2 133.8 C650 133.1 651.3 133.3 652.5 133.6 C653.7 133.8 654 133.5 656.3 135.3 C658.6 137.1 663.3 141.1 666.3 144.3 C669.3 147.5 672.1 151 674.3 154.3 C676.5 157.7 678.1 161.1 679.4 164.4 C680.7 167.8 681.6 171.3 682.2 174.4 C682.8 177.5 683.3 181.3 683.2 183 C683.1 184.7 682.5 185.1 681.4 184.5 C680.2 183.9 678.5 181.8 676.3 179.4 C674.1 177.1 671.3 173.9 668.3 170.4 C665.3 166.9 661.3 162.4 658.3 158.4 C655.3 154.4 652 149.7 650.2 146.3 C648.5 142.9 648 140.1 647.8 138 C647.6 135.9 648.4 134.5 649.2 133.8Z" fill="#fff" stroke="#fff" stroke-width="3" opacity=".85" transform="translate(-1 1.5)"/>
<path d="M684 183 C683.7 182 683.9 181.5 684.6 178.4 C685.3 175.3 687.4 168.4 688.4 164.4 C689.4 160.4 688.7 157 690.4 154.3 C692.1 151.6 695 150.3 698.4 148.3 C701.8 146.3 706.8 144.5 710.5 142.3 C714.2 140.1 717.8 136.9 720.5 135.3 C723.2 133.7 725.2 132.8 726.5 132.7 C727.8 132.6 727.9 133.5 728 134.5 C728.1 135.5 728.1 136.2 727.2 138.5 C726.3 140.8 725 144.7 722.5 148.3 C720 152 716.2 156.7 712.5 160.4 C708.8 164.1 704.1 167.4 700.4 170.4 C696.7 173.4 692.7 176.1 690.4 178.4 C688.1 180.8 687.5 183.7 686.4 184.5 C685.3 185.3 684.3 184 684 183Z" fill="#fff" stroke="#fff" stroke-width="3" opacity=".85" transform="translate(1 1.5)"/>
<path d="M649.2 133.8 C650 133.1 651.3 133.3 652.5 133.6 C653.7 133.8 654 133.5 656.3 135.3 C658.6 137.1 663.3 141.1 666.3 144.3 C669.3 147.5 672.1 151 674.3 154.3 C676.5 157.7 678.1 161.1 679.4 164.4 C680.7 167.8 681.6 171.3 682.2 174.4 C682.8 177.5 683.3 181.3 683.2 183 C683.1 184.7 682.5 185.1 681.4 184.5 C680.2 183.9 678.5 181.8 676.3 179.4 C674.1 177.1 671.3 173.9 668.3 170.4 C665.3 166.9 661.3 162.4 658.3 158.4 C655.3 154.4 652 149.7 650.2 146.3 C648.5 142.9 648 140.1 647.8 138 C647.6 135.9 648.4 134.5 649.2 133.8Z" fill="#DDDAF0" stroke="#A55E62" stroke-width=".8"/>
<path d="M684 183 C683.7 182 683.9 181.5 684.6 178.4 C685.3 175.3 687.4 168.4 688.4 164.4 C689.4 160.4 688.7 157 690.4 154.3 C692.1 151.6 695 150.3 698.4 148.3 C701.8 146.3 706.8 144.5 710.5 142.3 C714.2 140.1 717.8 136.9 720.5 135.3 C723.2 133.7 725.2 132.8 726.5 132.7 C727.8 132.6 727.9 133.5 728 134.5 C728.1 135.5 728.1 136.2 727.2 138.5 C726.3 140.8 725 144.7 722.5 148.3 C720 152 716.2 156.7 712.5 160.4 C708.8 164.1 704.1 167.4 700.4 170.4 C696.7 173.4 692.7 176.1 690.4 178.4 C688.1 180.8 687.5 183.7 686.4 184.5 C685.3 185.3 684.3 184 684 183Z" fill="#DDDAF0" stroke="#A55E62" stroke-width=".8"/>
<path d="M683.4 176 L683.4 210" stroke="#B98A98" stroke-width="1.2"/>
<path d="M681.8 178 L683.4 210 L685 178Z" fill="#D9D2EA"/>
<path d="M673 220 Q682 224 684.5 222.5 Q689 223 696 219.5 Q689.5 228 695.5 237 Q688 233.5 684.5 234 Q681 233.5 673.5 236.5 Q679 228 673 220Z" fill="#D99A63" stroke="#F6E2C8" stroke-width=".8"/>
<path d="M684.5 222.5 L684.5 234" stroke="#B87440" stroke-width="1"/>
<path d="M676 243 h17 M675 248 h19 M677 253 h15 M676 258 h17 M678 263 h13 M679 268 h12" stroke="#FAD9BC" stroke-width="2.4" fill="none"/>
<g transform="translate(638.5 214) scale(1 1)">
<path d="M-8 2 C-10 -8 8 -10 9 0 C16 8 20 18 19 30 C10 22 0 24 -12 27 C-22 30 -30 24 -36 26" fill="none" stroke="#FCD6B4" stroke-width="9" stroke-linecap="round"/>
<ellipse cx="1" cy="-1" rx="5" ry="3.3" fill="#FEF0D9" stroke="#fff" stroke-width="1.6"/>
<ellipse cx="1" cy="-1" rx="5" ry="3.3" fill="none" stroke="#B9685C" stroke-width=".7"/>
<path d="M6 1 C13 8 17 17 17.5 28" fill="none" stroke="#fff" stroke-width="2"/>
<path d="M6 0.5 C13.5 7.5 18 17 18.2 28" fill="none" stroke="#B9685C" stroke-width=".7"/>
<path d="M17 32 C14 41 6 50 -16 61 L3 61 C9 52 14 43 17 32Z" fill="#7A1D12"/>
<path d="M17 30 C16 42 12 52 8 62 L16 62 C18 50 19 40 17 30Z" fill="#F9DCC0"/>
<path d="M-16 60 l3 -4 M-10 60 l3 -5 M-4 60 l3 -6 M2 59 l2 -7" stroke="#F7E6D0" stroke-width="2.6" stroke-linecap="round"/>
</g>
<g transform="translate(730.5 214) scale(-1 1)">
<path d="M-8 2 C-10 -8 8 -10 9 0 C16 8 20 18 19 30 C10 22 0 24 -12 27 C-22 30 -30 24 -36 26" fill="none" stroke="#FCD6B4" stroke-width="9" stroke-linecap="round"/>
<ellipse cx="1" cy="-1" rx="5" ry="3.3" fill="#FEF0D9" stroke="#fff" stroke-width="1.6"/>
<ellipse cx="1" cy="-1" rx="5" ry="3.3" fill="none" stroke="#B9685C" stroke-width=".7"/>
<path d="M6 1 C13 8 17 17 17.5 28" fill="none" stroke="#fff" stroke-width="2"/>
<path d="M6 0.5 C13.5 7.5 18 17 18.2 28" fill="none" stroke="#B9685C" stroke-width=".7"/>
<path d="M17 32 C14 41 6 50 -16 61 L3 61 C9 52 14 43 17 32Z" fill="#7A1D12"/>
<path d="M17 30 C16 42 12 52 8 62 L16 62 C18 50 19 40 17 30Z" fill="#F9DCC0"/>
<path d="M-16 60 l3 -4 M-10 60 l3 -5 M-4 60 l3 -6 M2 59 l2 -7" stroke="#F7E6D0" stroke-width="2.6" stroke-linecap="round"/>
</g>
<path d="M652 280 C653 262 648 250 652 240 C660 236 706 236 714 240 C718 250 713 262 714 280Z" fill="#FEF0D9" opacity=".0"/>
<path d="M530 248.2 C529.8 247.6 529.9 248 529.1 244.8 C528.3 241.7 526.2 235.1 525.2 229.3 C524.2 223.5 523.7 216.4 523.3 209.9 C522.9 203.5 522.5 196.9 522.7 190.5 C522.9 184 523.3 177.6 524.2 171.2 C525.1 164.8 526.5 158.3 528.1 151.9 C529.7 145.4 531.9 137.9 533.9 132.6 C536 127.3 537.9 124.4 540.4 120.1 C542.8 115.7 545.7 111.4 548.8 106.5 C551.9 101.6 555 95.9 558.9 90.7 C562.7 85.4 567.3 79.7 571.9 75.1 C576.5 70.5 581.2 66.8 586.6 62.9 C591.9 59 598 54.8 603.8 51.8 C609.5 48.7 618.1 45.9 620.9 44.8" fill="none" stroke="#6A5638" stroke-width="15.3"/><path d="M530 248.2 C529.8 247.6 529.9 248 529.1 244.8 C528.3 241.7 526.2 235.1 525.2 229.3 C524.2 223.5 523.7 216.4 523.3 209.9 C522.9 203.5 522.5 196.9 522.7 190.5 C522.9 184 523.3 177.6 524.2 171.2 C525.1 164.8 526.5 158.3 528.1 151.9 C529.7 145.4 531.9 137.9 533.9 132.6 C536 127.3 537.9 124.4 540.4 120.1 C542.8 115.7 545.7 111.4 548.8 106.5 C551.9 101.6 555 95.9 558.9 90.7 C562.7 85.4 567.3 79.7 571.9 75.1 C576.5 70.5 581.2 66.8 586.6 62.9 C591.9 59 598 54.8 603.8 51.8 C609.5 48.7 618.1 45.9 620.9 44.8" fill="none" stroke="#F5E6C4" stroke-width="13.8"/><path d="M530 248.2 C529.8 247.6 529.9 248 529.1 244.8 C528.3 241.7 526.2 235.1 525.2 229.3 C524.2 223.5 523.7 216.4 523.3 209.9 C522.9 203.5 522.5 196.9 522.7 190.5 C522.9 184 523.3 177.6 524.2 171.2 C525.1 164.8 526.5 158.3 528.1 151.9 C529.7 145.4 531.9 137.9 533.9 132.6 C536 127.3 537.9 124.4 540.4 120.1 C542.8 115.7 545.7 111.4 548.8 106.5 C551.9 101.6 555 95.9 558.9 90.7 C562.7 85.4 567.3 79.7 571.9 75.1 C576.5 70.5 581.2 66.8 586.6 62.9 C591.9 59 598 54.8 603.8 51.8 C609.5 48.7 618.1 45.9 620.9 44.8" fill="none" stroke="#E08A6E" stroke-width="7"/><path d="M530 248.2 C529.8 247.6 529.9 248 529.1 244.8 C528.3 241.7 526.2 235.1 525.2 229.3 C524.2 223.5 523.7 216.4 523.3 209.9 C522.9 203.5 522.5 196.9 522.7 190.5 C522.9 184 523.3 177.6 524.2 171.2 C525.1 164.8 526.5 158.3 528.1 151.9 C529.7 145.4 531.9 137.9 533.9 132.6 C536 127.3 537.9 124.4 540.4 120.1 C542.8 115.7 545.7 111.4 548.8 106.5 C551.9 101.6 555 95.9 558.9 90.7 C562.7 85.4 567.3 79.7 571.9 75.1 C576.5 70.5 581.2 66.8 586.6 62.9 C591.9 59 598 54.8 603.8 51.8 C609.5 48.7 618.1 45.9 620.9 44.8" fill="none" stroke="#CF4E3C" stroke-width="4.2" stroke-dasharray="1.5 1.2"/><path d="M530 248.2 C529.8 247.6 529.9 248 529.1 244.8 C528.3 241.7 526.2 235.1 525.2 229.3 C524.2 223.5 523.7 216.4 523.3 209.9 C522.9 203.5 522.5 196.9 522.7 190.5 C522.9 184 523.3 177.6 524.2 171.2 C525.1 164.8 526.5 158.3 528.1 151.9 C529.7 145.4 531.9 137.9 533.9 132.6 C536 127.3 537.9 124.4 540.4 120.1 C542.8 115.7 545.7 111.4 548.8 106.5 C551.9 101.6 555 95.9 558.9 90.7 C562.7 85.4 567.3 79.7 571.9 75.1 C576.5 70.5 581.2 66.8 586.6 62.9 C591.9 59 598 54.8 603.8 51.8 C609.5 48.7 618.1 45.9 620.9 44.8" fill="none" stroke="#E9A98C" stroke-width="2" stroke-dasharray=".8 2.1"/><path d="M536.1 246.5 C536 246 536.1 246.3 535.3 243.3 C534.5 240.2 532.5 233.9 531.5 228.3 C530.6 222.6 530.1 215.8 529.7 209.5 C529.3 203.2 528.9 196.9 529.1 190.6 C529.2 184.4 529.7 178.3 530.6 172.1 C531.4 165.9 532.7 159.6 534.3 153.4 C535.8 147.2 537.9 139.9 539.9 134.9 C541.8 129.9 543.5 127.4 545.9 123.2 C548.3 119.1 551.2 114.8 554.2 110 C557.2 105.2 560.3 99.5 564 94.5 C567.8 89.4 572.1 84 576.4 79.6 C580.8 75.2 585.3 71.8 590.3 68.1 C595.4 64.4 601.3 60.3 606.8 57.4 C612.3 54.5 620.6 51.8 623.4 50.7" fill="none" stroke="#A09EE6" stroke-width="1.8"/>
<path d="M629.6 41.4 C632.4 40.8 640.2 38.6 646.2 37.6 C652.2 36.6 658.6 35.7 665.6 35.2 C672.5 34.6 680.7 34.2 688 34.2 C695.3 34.2 701.7 34.4 709.3 35.2 C717 35.9 729.9 38 734 38.5" fill="none" stroke="#6A5638" stroke-width="15.3"/><path d="M629.6 41.4 C632.4 40.8 640.2 38.6 646.2 37.6 C652.2 36.6 658.6 35.7 665.6 35.2 C672.5 34.6 680.7 34.2 688 34.2 C695.3 34.2 701.7 34.4 709.3 35.2 C717 35.9 729.9 38 734 38.5" fill="none" stroke="#F5E6C4" stroke-width="13.8"/><path d="M629.6 41.4 C632.4 40.8 640.2 38.6 646.2 37.6 C652.2 36.6 658.6 35.7 665.6 35.2 C672.5 34.6 680.7 34.2 688 34.2 C695.3 34.2 701.7 34.4 709.3 35.2 C717 35.9 729.9 38 734 38.5" fill="none" stroke="#E08A6E" stroke-width="7"/><path d="M629.6 41.4 C632.4 40.8 640.2 38.6 646.2 37.6 C652.2 36.6 658.6 35.7 665.6 35.2 C672.5 34.6 680.7 34.2 688 34.2 C695.3 34.2 701.7 34.4 709.3 35.2 C717 35.9 729.9 38 734 38.5" fill="none" stroke="#CF4E3C" stroke-width="4.2" stroke-dasharray="1.5 1.2"/><path d="M629.6 41.4 C632.4 40.8 640.2 38.6 646.2 37.6 C652.2 36.6 658.6 35.7 665.6 35.2 C672.5 34.6 680.7 34.2 688 34.2 C695.3 34.2 701.7 34.4 709.3 35.2 C717 35.9 729.9 38 734 38.5" fill="none" stroke="#E9A98C" stroke-width="2" stroke-dasharray=".8 2.1"/><path d="M631 47.7 C633.8 47 641.5 44.9 647.3 43.9 C653.2 42.9 659.3 42.1 666.1 41.6 C672.9 41 680.9 40.6 688 40.6 C695.1 40.6 701.2 40.8 708.7 41.5 C716.3 42.3 729.1 44.3 733.2 44.9" fill="none" stroke="#A09EE6" stroke-width="1.8"/>
<path d="M743.3 38.6 C746.9 39.3 758 40.7 764.9 42.9 C771.7 45.1 778.2 48.1 784.2 51.8 C790.2 55.6 795.7 60.6 800.7 65.4 C805.8 70.2 810.1 75 814.4 80.6 C818.8 86.2 823.2 93.2 826.8 99.2 C830.5 105.2 833.1 110.5 836.2 116.6 C839.4 122.6 843 130 845.9 135.4 C848.7 140.8 851.3 143.4 853.5 148.8 C855.8 154.3 857.7 161.5 859.3 168 C860.9 174.4 862.2 180.9 863.2 187.4 C864.1 193.8 864.8 200.3 865.1 206.8 C865.4 213.2 865.4 219.6 865.1 226.1 C864.8 232.7 863.5 242.9 863.1 246.3" fill="none" stroke="#6A5638" stroke-width="15.3"/><path d="M743.3 38.6 C746.9 39.3 758 40.7 764.9 42.9 C771.7 45.1 778.2 48.1 784.2 51.8 C790.2 55.6 795.7 60.6 800.7 65.4 C805.8 70.2 810.1 75 814.4 80.6 C818.8 86.2 823.2 93.2 826.8 99.2 C830.5 105.2 833.1 110.5 836.2 116.6 C839.4 122.6 843 130 845.9 135.4 C848.7 140.8 851.3 143.4 853.5 148.8 C855.8 154.3 857.7 161.5 859.3 168 C860.9 174.4 862.2 180.9 863.2 187.4 C864.1 193.8 864.8 200.3 865.1 206.8 C865.4 213.2 865.4 219.6 865.1 226.1 C864.8 232.7 863.5 242.9 863.1 246.3" fill="none" stroke="#F5E6C4" stroke-width="13.8"/><path d="M743.3 38.6 C746.9 39.3 758 40.7 764.9 42.9 C771.7 45.1 778.2 48.1 784.2 51.8 C790.2 55.6 795.7 60.6 800.7 65.4 C805.8 70.2 810.1 75 814.4 80.6 C818.8 86.2 823.2 93.2 826.8 99.2 C830.5 105.2 833.1 110.5 836.2 116.6 C839.4 122.6 843 130 845.9 135.4 C848.7 140.8 851.3 143.4 853.5 148.8 C855.8 154.3 857.7 161.5 859.3 168 C860.9 174.4 862.2 180.9 863.2 187.4 C864.1 193.8 864.8 200.3 865.1 206.8 C865.4 213.2 865.4 219.6 865.1 226.1 C864.8 232.7 863.5 242.9 863.1 246.3" fill="none" stroke="#E08A6E" stroke-width="7"/><path d="M743.3 38.6 C746.9 39.3 758 40.7 764.9 42.9 C771.7 45.1 778.2 48.1 784.2 51.8 C790.2 55.6 795.7 60.6 800.7 65.4 C805.8 70.2 810.1 75 814.4 80.6 C818.8 86.2 823.2 93.2 826.8 99.2 C830.5 105.2 833.1 110.5 836.2 116.6 C839.4 122.6 843 130 845.9 135.4 C848.7 140.8 851.3 143.4 853.5 148.8 C855.8 154.3 857.7 161.5 859.3 168 C860.9 174.4 862.2 180.9 863.2 187.4 C864.1 193.8 864.8 200.3 865.1 206.8 C865.4 213.2 865.4 219.6 865.1 226.1 C864.8 232.7 863.5 242.9 863.1 246.3" fill="none" stroke="#CF4E3C" stroke-width="4.2" stroke-dasharray="1.5 1.2"/><path d="M743.3 38.6 C746.9 39.3 758 40.7 764.9 42.9 C771.7 45.1 778.2 48.1 784.2 51.8 C790.2 55.6 795.7 60.6 800.7 65.4 C805.8 70.2 810.1 75 814.4 80.6 C818.8 86.2 823.2 93.2 826.8 99.2 C830.5 105.2 833.1 110.5 836.2 116.6 C839.4 122.6 843 130 845.9 135.4 C848.7 140.8 851.3 143.4 853.5 148.8 C855.8 154.3 857.7 161.5 859.3 168 C860.9 174.4 862.2 180.9 863.2 187.4 C864.1 193.8 864.8 200.3 865.1 206.8 C865.4 213.2 865.4 219.6 865.1 226.1 C864.8 232.7 863.5 242.9 863.1 246.3" fill="none" stroke="#E9A98C" stroke-width="2" stroke-dasharray=".8 2.1"/><path d="M742.1 44.8 C745.5 45.5 756.4 47 762.9 49 C769.3 51.1 775.2 53.7 780.8 57.2 C786.4 60.7 791.6 65.5 796.3 70.1 C801.1 74.6 805.2 79.1 809.3 84.5 C813.5 89.9 817.8 96.7 821.4 102.6 C824.9 108.4 827.4 113.6 830.6 119.5 C833.7 125.5 837.4 133.1 840.2 138.4 C843.1 143.7 845.5 146.1 847.6 151.3 C849.8 156.5 851.6 163.3 853.1 169.5 C854.6 175.7 855.9 182 856.8 188.3 C857.8 194.6 858.4 200.8 858.7 207.1 C859 213.3 859 219.4 858.7 225.8 C858.4 232.3 857.1 242.4 856.8 245.7" fill="none" stroke="#A09EE6" stroke-width="2.8"/>
<path d="M850.2 261 L855.2 248.4 L870.3 247.4 L889 238.6 L889 246 L871.3 255.8Z" fill="#BAB8EF" stroke="#8F8DD6" stroke-width=".7"/>
<path d="M617.8 36.5 L628.4 33 L634 50 L624 53.6Z" fill="#F6F2F0"/>
<path d="M735.2 30 L743.4 30 L741.6 46.5 L733 46Z" fill="#F6F2F0"/>
<path d="M616.3 14 L628.2 51.8" stroke="#1D4F82" stroke-width="2.6"/>
<path d="M628.2 51.8 L653.6 132.5" stroke="#B9C3BE" stroke-width="1.5" opacity=".9"/>
<path d="M650 122 L655 138" stroke="#9FA6C4" stroke-width="2.2" opacity=".9"/>
<path d="M741.8 14 L737 45" stroke="#1D4F82" stroke-width="2.6"/>
<path d="M737 45 L726.5 108.5" stroke="#B9C3BE" stroke-width="1.5" opacity=".9"/>
<path d="M728 98 L726.3 109" stroke="#9FA6AE" stroke-width="2.2"/>
<g transform="translate(653 136) rotate(-18)" fill="none" stroke="#fff"><ellipse rx="4.5" ry="9" stroke-width="1.2"/><ellipse rx="8" ry="14" stroke-width=".7" opacity=".8"/><ellipse rx="12" ry="19" stroke-width=".5" opacity=".6"/></g>
<g transform="translate(727 104) rotate(9)" fill="none" stroke="#fff"><ellipse rx="4.6" ry="8.5" stroke-width="1.2"/><ellipse rx="8" ry="14" stroke-width=".7" opacity=".8"/><ellipse rx="12" ry="20" stroke-width=".5" opacity=".6"/></g>
<rect x="598.6" y="88.1" width="76.3" height="104.4" fill="none" stroke="#000" stroke-width="2"/>
<rect x="690" y="88.1" width="76.1" height="104.4" fill="none" stroke="#000" stroke-width="2"/>
</g>
<rect x="508.4" y="15.6" width="380.7" height="258.0" fill="none" stroke="#000" stroke-width="3.8"/>
<text x="183.9" y="581.9" font-size="24.4" font-weight="bold" text-anchor="middle" textLength="187.6" lengthAdjust="spacingAndGlyphs" fill="#000">Intra-ventricular</text>
<text x="184.20000000000002" y="608.7" font-size="24.4" font-weight="bold" text-anchor="middle" textLength="41.6" lengthAdjust="spacingAndGlyphs" fill="#000">ICP</text>
<text x="183.9" y="630.9" font-size="24.4" font-weight="bold" text-anchor="middle" textLength="159.2" lengthAdjust="spacingAndGlyphs" fill="#000">Measurement</text>
<text x="183.2" y="654.5" font-size="17.4" font-weight="bold" text-anchor="middle" textLength="141.8" lengthAdjust="spacingAndGlyphs" fill="#9966CC">(closed catheter)</text>
<text x="546.1" y="581.9" font-size="24.4" font-weight="bold" text-anchor="middle" textLength="187.6" lengthAdjust="spacingAndGlyphs" fill="#000">Intra-ventricular</text>
<text x="546.4" y="608.7" font-size="24.4" font-weight="bold" text-anchor="middle" textLength="41.6" lengthAdjust="spacingAndGlyphs" fill="#000">ICP</text>
<text x="546.1" y="630.9" font-size="24.4" font-weight="bold" text-anchor="middle" textLength="159.2" lengthAdjust="spacingAndGlyphs" fill="#000">Measurement</text>
<text x="548.2" y="654.5" font-size="17.4" font-weight="bold" text-anchor="middle" textLength="129.2" lengthAdjust="spacingAndGlyphs" fill="#9966CC">(open catheter)</text>
<text x="902.9" y="581.9" font-size="24.4" font-weight="bold" text-anchor="middle" textLength="215.3" lengthAdjust="spacingAndGlyphs" fill="#000">Intra-parenchymal</text>
<text x="903.1999999999999" y="608.7" font-size="24.4" font-weight="bold" text-anchor="middle" textLength="41.6" lengthAdjust="spacingAndGlyphs" fill="#000">ICP</text>
<text x="902.9" y="629.6" font-size="24.4" font-weight="bold" text-anchor="middle" textLength="159.2" lengthAdjust="spacingAndGlyphs" fill="#000">Measurement</text>
<text class="ser" transform="translate(1062.6 668.3) rotate(-90)" font-size="21.3" textLength="329" lengthAdjust="spacingAndGlyphs" fill="#000">Copyright Medical College of Georgia</text>
</svg></body></html>
